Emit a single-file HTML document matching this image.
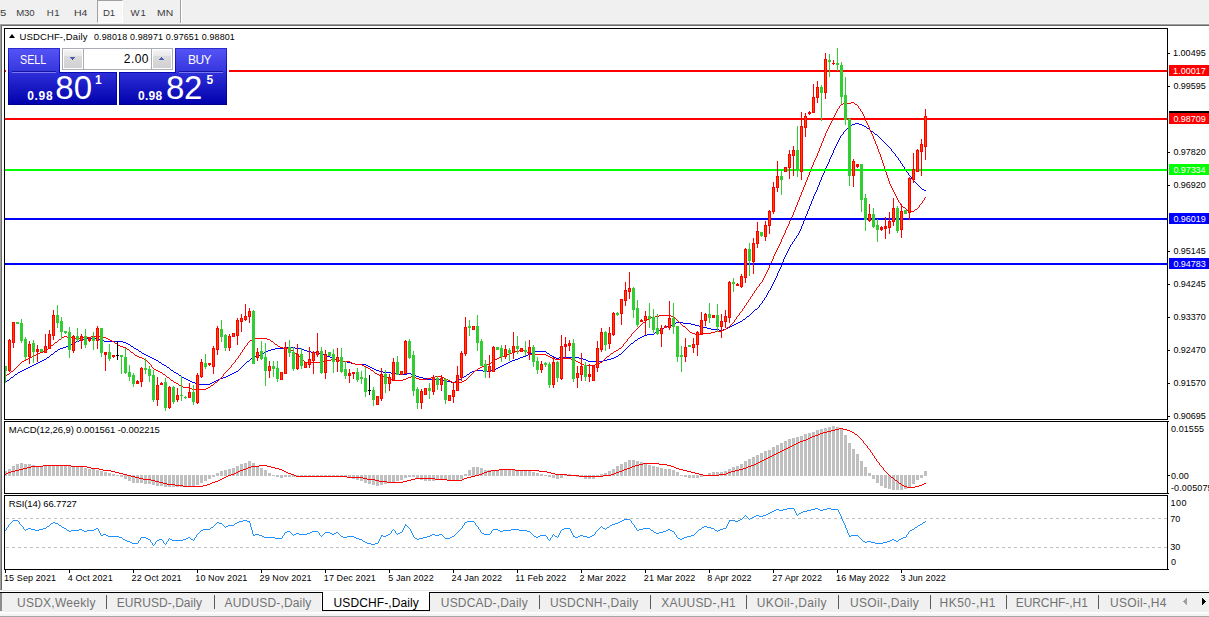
<!DOCTYPE html><html><head><meta charset="utf-8"><title>chart</title><style>
html,body{margin:0;padding:0}
body{width:1209px;height:617px;position:relative;overflow:hidden;background:#fff;font-family:"Liberation Sans",sans-serif;}
.a{position:absolute;white-space:nowrap;line-height:1}
.t{position:absolute;white-space:nowrap;transform-origin:0 0}
</style></head><body>
<div class="a" style="left:0px;top:0px;width:1209px;height:23px;background:#f0f0f0;"></div>
<div class="a" style="left:0px;top:23px;width:1209px;height:1px;background:#f4f4f4;"></div>
<div class="a" style="left:0px;top:24px;width:1209px;height:1px;background:#a0a0a0;"></div>
<div class="a" style="left:0px;top:25px;width:1209px;height:1px;background:#696969;"></div>
<div class="a" style="left:0px;top:24px;width:1px;height:566px;background:#a0a0a0;"></div>
<div class="a" style="left:1px;top:25px;width:1px;height:565px;background:#696969;"></div>
<div class="a" style="left:97px;top:0;width:26px;height:23px;background:#f8f8f8;border-left:1px solid #a0a0a0;border-top:1px solid #a0a0a0;border-right:1px solid #fff;border-bottom:1px solid #fff;box-sizing:border-box"></div>
<div class="a" style="left:180px;top:0px;width:1px;height:23px;background:#a0a0a0;"></div>
<div class="a" style="left:181px;top:0px;width:1px;height:23px;background:#fff;"></div>
<div class="t" style="left:0.15px;top:6.98px;font-size:9.6px;line-height:12px;color:#3c3c3c;transform:scaleX(1.1842105263157896);">5</div>
<div class="t" style="left:16.13px;top:6.98px;font-size:9.6px;line-height:12px;color:#3c3c3c;letter-spacing:-0.160px;">M30</div>
<div class="t" style="left:46.83px;top:6.98px;font-size:9.6px;line-height:12px;color:#3c3c3c;letter-spacing:0.508px;">H1</div>
<div class="t" style="left:73.56px;top:6.98px;font-size:9.6px;line-height:12px;color:#3c3c3c;transform:scaleX(1.0997854077253217);">H4</div>
<div class="t" style="left:103.03px;top:6.98px;font-size:9.6px;line-height:12px;color:#3c3c3c;letter-spacing:-0.092px;">D1</div>
<div class="t" style="left:130.55px;top:6.98px;font-size:9.6px;line-height:12px;color:#3c3c3c;letter-spacing:0.828px;">W1</div>
<div class="t" style="left:156.97px;top:6.98px;font-size:9.6px;line-height:12px;color:#3c3c3c;transform:scaleX(1.08273596176822);">MN</div>
<svg width="1209" height="617" viewBox="0 0 1209 617" shape-rendering="crispEdges" style="position:absolute;left:0;top:0">
<path d="M26 368h2v1h-2zM372 368h2v1h-2zM496 368h2v1h-2zM60 348h3v1h-3zM134 348h2v1h-2zM275 348h12v1h-12zM295 348h7v1h-7zM22 370h2v1h-2zM171 370h2v1h-2zM376 370h3v1h-3zM475 370h8v1h-8zM491 370h3v1h-3zM176 373h2v1h-2zM232 373h2v1h-2zM391 373h8v1h-8zM407 373h4v1h-4zM152 358h2v1h-2zM251 358h2v1h-2zM332 358h2v1h-2zM518 358h2v1h-2zM556 358h3v1h-3zM579 358h4v1h-4zM611 358h3v1h-3zM72 343h2v1h-2zM126 343h2v1h-2zM631 343h2v1h-2zM674 323h2v1h-2zM683 323h8v1h-8zM736 323h2v1h-2zM83 339h4v1h-4zM99 339h3v1h-3zM264 352h2v1h-2zM311 352h8v1h-8zM532 352h3v1h-3zM644 335h3v1h-3zM55 351h2v1h-2zM139 351h2v1h-2zM266 351h2v1h-2zM307 351h4v1h-4zM535 351h11v1h-11zM655 332h2v1h-2zM51 354h2v1h-2zM144 354h2v1h-2zM260 354h2v1h-2zM322 354h2v1h-2zM528 354h2v1h-2zM619 354h2v1h-2zM184 378h2v1h-2zM220 378h3v1h-3zM423 378h4v1h-4zM192 382h3v1h-3zM212 382h2v1h-2zM451 382h4v1h-4zM18 372h2v1h-2zM174 372h2v1h-2zM234 372h2v1h-2zM383 372h8v1h-8zM470 372h2v1h-2zM658 330h2v1h-2zM719 330h4v1h-4zM667 326h3v1h-3zM699 326h4v1h-4zM730 326h2v1h-2zM20 371h2v1h-2zM236 371h2v1h-2zM379 371h4v1h-4zM472 371h3v1h-3zM483 371h8v1h-8zM47 357h2v1h-2zM150 357h2v1h-2zM253 357h2v1h-2zM330 357h2v1h-2zM520 357h3v1h-3zM554 357h2v1h-2zM559 357h20v1h-20zM614 357h2v1h-2zM186 379h2v1h-2zM218 379h2v1h-2zM427 379h15v1h-15zM459 379h2v1h-2zM647 334h7v1h-7zM179 375h2v1h-2zM228 375h2v1h-2zM414 375h2v1h-2zM148 356h2v1h-2zM255 356h3v1h-3zM327 356h3v1h-3zM523 356h3v1h-3zM552 356h2v1h-2zM616 356h2v1h-2zM195 383h4v1h-4zM210 383h2v1h-2zM672 324h2v1h-2zM691 324h4v1h-4zM734 324h2v1h-2zM664 327h3v1h-3zM703 327h4v1h-4zM728 327h2v1h-2zM747 316h2v1h-2zM34 364h2v1h-2zM162 364h2v1h-2zM355 364h11v1h-11zM504 364h2v1h-2zM15 374h2v1h-2zM230 374h2v1h-2zM399 374h8v1h-8zM411 374h3v1h-3zM467 374h2v1h-2zM76 341h3v1h-3zM104 341h19v1h-19zM38 362h2v1h-2zM159 362h2v1h-2zM347 362h4v1h-4zM508 362h2v1h-2zM142 353h2v1h-2zM262 353h2v1h-2zM319 353h3v1h-3zM530 353h2v1h-2zM547 353h2v1h-2zM855 123h4v1h-4zM11 377h2v1h-2zM182 377h2v1h-2zM223 377h3v1h-3zM419 377h4v1h-4zM462 377h2v1h-2zM40 361h2v1h-2zM247 361h2v1h-2zM343 361h4v1h-4zM510 361h2v1h-2zM588 361h15v1h-15zM867 128h2v1h-2zM7 380h2v1h-2zM188 380h2v1h-2zM216 380h2v1h-2zM442 380h2v1h-2zM190 381h2v1h-2zM214 381h2v1h-2zM444 381h7v1h-7zM455 381h3v1h-3zM79 340h4v1h-4zM102 340h2v1h-2zM635 340h2v1h-2zM42 360h2v1h-2zM156 360h2v1h-2zM336 360h7v1h-7zM512 360h3v1h-3zM586 360h2v1h-2zM603 360h4v1h-4zM670 325h2v1h-2zM695 325h4v1h-4zM732 325h2v1h-2zM63 347h3v1h-3zM287 347h8v1h-8zM44 359h2v1h-2zM154 359h2v1h-2zM334 359h2v1h-2zM515 359h3v1h-3zM583 359h3v1h-3zM607 359h4v1h-4zM640 337h2v1h-2zM662 328h2v1h-2zM707 328h4v1h-4zM726 328h2v1h-2zM924 190h2v1h-2zM146 355h2v1h-2zM258 355h2v1h-2zM324 355h3v1h-3zM526 355h2v1h-2zM550 355h2v1h-2zM660 329h2v1h-2zM711 329h8v1h-8zM723 329h3v1h-3zM199 384h11v1h-11zM850 125h2v1h-2zM862 125h2v1h-2zM87 338h12v1h-12zM638 338h2v1h-2zM68 345h2v1h-2zM24 369h2v1h-2zM374 369h2v1h-2zM494 369h2v1h-2zM676 322h7v1h-7zM738 322h2v1h-2zM36 363h2v1h-2zM351 363h4v1h-4zM506 363h2v1h-2zM226 376h2v1h-2zM416 376h3v1h-3zM464 376h2v1h-2zM30 366h2v1h-2zM368 366h2v1h-2zM500 366h2v1h-2zM58 349h2v1h-2zM136 349h2v1h-2zM271 349h4v1h-4zM302 349h2v1h-2zM66 346h2v1h-2zM131 346h2v1h-2zM852 124h3v1h-3zM859 124h3v1h-3zM864 126h2v1h-2zM74 342h2v1h-2zM123 342h3v1h-3zM70 344h2v1h-2zM128 344h2v1h-2zM268 350h3v1h-3zM304 350h3v1h-3zM642 336h2v1h-2zM28 367h2v1h-2zM167 367h2v1h-2zM370 367h2v1h-2zM498 367h2v1h-2zM32 365h2v1h-2zM164 365h2v1h-2zM366 365h2v1h-2zM502 365h2v1h-2zM743 319h2v1h-2zM871 131h2v1h-2zM740 321h2v1h-2zM755 309h2v1h-2zM922 189h2v1h-2zM875 134h2v1h-2zM169 368h1v1h-1zM240 368h1v1h-1zM626 348h1v1h-1zM238 370h1v1h-1zM17 373h1v1h-1zM469 373h1v1h-1zM46 358h1v1h-1zM637 339h1v1h-1zM807 211h1v3h-1zM816 190h1v2h-1zM54 352h1v1h-1zM141 352h1v1h-1zM546 352h1v1h-1zM622 352h1v1h-1zM771 286h1v2h-1zM623 351h1v1h-1zM549 354h1v1h-1zM10 378h1v1h-1zM461 378h1v1h-1zM5 382h1v1h-1zM832 153h1v2h-1zM894 153h1v1h-1zM831 155h1v2h-1zM896 156h1v1h-1zM173 371h1v1h-1zM9 379h1v1h-1zM14 375h1v1h-1zM466 375h1v1h-1zM49 356h1v1h-1zM799 231h1v2h-1zM822 175h1v2h-1zM910 176h1v1h-1zM758 307h1v1h-1zM244 364h1v1h-1zM819 182h1v3h-1zM916 183h1v1h-1zM845 130h1v1h-1zM870 130h1v1h-1zM178 374h1v1h-1zM634 341h1v1h-1zM246 362h1v1h-1zM53 353h1v1h-1zM621 353h1v1h-1zM751 313h1v1h-1zM158 361h1v1h-1zM847 128h1v1h-1zM458 380h1v1h-1zM6 381h1v1h-1zM802 224h1v2h-1zM811 201h1v3h-1zM249 360h1v1h-1zM827 164h1v2h-1zM902 164h1v2h-1zM778 271h1v2h-1zM839 138h1v2h-1zM880 138h1v1h-1zM133 347h1v1h-1zM627 347h1v1h-1zM250 359h1v1h-1zM790 245h1v2h-1zM810 204h1v2h-1zM895 154h1v2h-1zM848 127h1v1h-1zM866 127h1v1h-1zM50 355h1v1h-1zM618 355h1v1h-1zM846 129h1v1h-1zM869 129h1v1h-1zM826 166h1v2h-1zM904 167h1v2h-1zM829 159h1v3h-1zM899 160h1v1h-1zM838 140h1v2h-1zM883 141h1v1h-1zM881 139h1v1h-1zM770 288h1v2h-1zM809 206h1v3h-1zM818 185h1v2h-1zM919 186h1v1h-1zM782 262h1v2h-1zM130 345h1v1h-1zM629 345h1v1h-1zM834 148h1v2h-1zM890 148h1v1h-1zM835 146h1v2h-1zM888 146h1v1h-1zM793 241h1v1h-1zM766 295h1v2h-1zM170 369h1v1h-1zM239 369h1v1h-1zM821 177h1v3h-1zM911 177h1v2h-1zM161 363h1v1h-1zM245 363h1v1h-1zM820 180h1v2h-1zM913 180h1v1h-1zM777 273h1v3h-1zM789 247h1v2h-1zM13 376h1v1h-1zM181 376h1v1h-1zM903 166h1v1h-1zM166 366h1v1h-1zM242 366h1v1h-1zM836 144h1v2h-1zM887 145h1v1h-1zM625 349h1v1h-1zM882 140h1v1h-1zM817 187h1v3h-1zM920 187h1v1h-1zM628 346h1v1h-1zM654 333h1v1h-1zM918 185h1v1h-1zM776 276h1v2h-1zM849 126h1v1h-1zM785 255h1v2h-1zM753 311h1v1h-1zM898 158h1v2h-1zM742 320h1v1h-1zM633 342h1v1h-1zM801 226h1v3h-1zM630 344h1v1h-1zM781 264h1v3h-1zM757 308h1v1h-1zM57 350h1v1h-1zM138 350h1v1h-1zM624 350h1v1h-1zM921 188h1v1h-1zM241 367h1v1h-1zM772 284h1v2h-1zM764 298h1v2h-1zM833 150h1v3h-1zM891 149h1v2h-1zM800 229h1v2h-1zM243 365h1v1h-1zM768 291h1v2h-1zM825 168h1v3h-1zM905 169h1v1h-1zM837 142h1v2h-1zM885 143h1v1h-1zM805 216h1v3h-1zM796 236h1v2h-1zM808 209h1v2h-1zM830 157h1v2h-1zM788 249h1v2h-1zM897 157h1v1h-1zM824 171h1v2h-1zM907 172h1v1h-1zM844 131h1v1h-1zM792 242h1v2h-1zM900 161h1v2h-1zM784 257h1v2h-1zM841 135h1v1h-1zM877 135h1v1h-1zM828 162h1v2h-1zM884 142h1v1h-1zM783 259h1v3h-1zM760 304h1v1h-1zM901 163h1v1h-1zM775 278h1v2h-1zM767 293h1v2h-1zM906 170h1v2h-1zM780 267h1v2h-1zM795 238h1v1h-1zM763 300h1v1h-1zM823 173h1v2h-1zM908 173h1v2h-1zM915 182h1v1h-1zM815 192h1v2h-1zM914 181h1v1h-1zM804 219h1v2h-1zM787 251h1v2h-1zM886 144h1v1h-1zM889 147h1v1h-1zM803 221h1v3h-1zM774 280h1v2h-1zM779 269h1v2h-1zM791 244h1v1h-1zM759 305h1v2h-1zM762 301h1v2h-1zM798 233h1v2h-1zM746 317h1v1h-1zM892 151h1v1h-1zM750 314h1v1h-1zM806 214h1v2h-1zM843 132h1v2h-1zM874 133h1v1h-1zM786 253h1v2h-1zM842 134h1v1h-1zM814 194h1v2h-1zM794 239h1v2h-1zM873 132h1v1h-1zM765 297h1v1h-1zM917 184h1v1h-1zM912 179h1v1h-1zM769 290h1v1h-1zM909 175h1v1h-1zM813 196h1v3h-1zM754 310h1v1h-1zM773 282h1v2h-1zM893 152h1v1h-1zM761 303h1v1h-1zM797 235h1v1h-1zM657 331h1v1h-1zM745 318h1v1h-1zM749 315h1v1h-1zM812 199h1v2h-1zM840 136h1v2h-1zM878 136h1v1h-1zM879 137h1v1h-1zM752 312h1v1h-1z" fill="#0000ff"/>
<path d="M22 361h2v1h-2zM323 361h4v1h-4zM343 361h7v1h-7zM576 361h2v1h-2zM355 364h7v1h-7zM487 364h3v1h-3zM582 364h2v1h-2zM595 364h3v1h-3zM283 348h7v1h-7zM619 348h2v1h-2zM375 373h2v1h-2zM275 344h2v1h-2zM156 370h2v1h-2zM371 370h2v1h-2zM475 370h2v1h-2zM843 103h8v1h-8zM383 376h3v1h-3zM411 376h3v1h-3zM435 376h7v1h-7zM123 347h3v1h-3zM280 347h3v1h-3zM62 337h2v1h-2zM67 337h8v1h-8zM83 337h8v1h-8zM103 337h3v1h-3zM26 359h2v1h-2zM144 359h2v1h-2zM331 359h8v1h-8zM495 359h2v1h-2zM555 359h8v1h-8zM571 359h3v1h-3zM362 365h2v1h-2zM484 365h3v1h-3zM584 365h11v1h-11zM167 377h2v1h-2zM386 377h2v1h-2zM408 377h3v1h-3zM414 377h2v1h-2zM431 377h4v1h-4zM442 377h2v1h-2zM366 367h2v1h-2zM480 367h2v1h-2zM36 354h2v1h-2zM507 354h3v1h-3zM529 354h17v1h-17zM291 350h2v1h-2zM519 350h7v1h-7zM616 350h2v1h-2zM40 352h3v1h-3zM131 352h2v1h-2zM512 352h3v1h-3zM28 358h2v1h-2zM142 358h2v1h-2zM497 358h2v1h-2zM552 358h3v1h-3zM563 358h8v1h-8zM75 338h8v1h-8zM106 338h2v1h-2zM255 338h12v1h-12zM43 351h3v1h-3zM515 351h4v1h-4zM614 351h2v1h-2zM11 371h2v1h-2zM158 371h2v1h-2zM305 362h18v1h-18zM350 362h2v1h-2zM491 362h2v1h-2zM578 362h2v1h-2zM600 362h2v1h-2zM388 378h2v1h-2zM406 378h2v1h-2zM416 378h3v1h-3zM427 378h4v1h-4zM444 378h2v1h-2zM651 317h4v1h-4zM909 211h5v1h-5zM64 336h3v1h-3zM91 336h12v1h-12zM34 355h2v1h-2zM135 355h2v1h-2zM504 355h3v1h-3zM546 355h2v1h-2zM903 207h2v1h-2zM649 318h2v1h-2zM390 379h2v1h-2zM403 379h3v1h-3zM419 379h8v1h-8zM446 379h2v1h-2zM692 333h3v1h-3zM703 333h8v1h-8zM171 380h2v1h-2zM392 380h11v1h-11zM448 380h2v1h-2zM464 380h2v1h-2zM174 382h2v1h-2zM215 382h2v1h-2zM452 382h10v1h-10zM915 209h2v1h-2zM659 315h12v1h-12zM695 334h8v1h-8zM655 316h4v1h-4zM671 316h3v1h-3zM647 319h2v1h-2zM183 387h7v1h-7zM208 387h2v1h-2zM715 331h7v1h-7zM32 356h2v1h-2zM137 356h2v1h-2zM502 356h2v1h-2zM548 356h2v1h-2zM607 356h2v1h-2zM727 327h2v1h-2zM59 339h2v1h-2zM108 339h2v1h-2zM252 339h3v1h-3zM267 339h3v1h-3zM368 368h2v1h-2zM478 368h2v1h-2zM450 381h2v1h-2zM462 381h2v1h-2zM110 340h2v1h-2zM250 340h2v1h-2zM30 357h2v1h-2zM139 357h3v1h-3zM499 357h3v1h-3zM550 357h2v1h-2zM38 353h2v1h-2zM295 353h2v1h-2zM510 353h2v1h-2zM611 353h2v1h-2zM120 346h3v1h-3zM278 346h2v1h-2zM115 343h2v1h-2zM112 341h2v1h-2zM271 341h2v1h-2zM24 360h2v1h-2zM327 360h4v1h-4zM339 360h4v1h-4zM574 360h2v1h-2zM364 366h2v1h-2zM482 366h2v1h-2zM127 349h2v1h-2zM192 389h14v1h-14zM51 345h2v1h-2zM118 345h2v1h-2zM722 330h2v1h-2zM179 385h2v1h-2zM211 385h2v1h-2zM841 104h2v1h-2zM855 104h2v1h-2zM851 102h3v1h-3zM352 363h3v1h-3zM580 363h2v1h-2zM598 363h2v1h-2zM7 374h2v1h-2zM163 374h2v1h-2zM377 374h2v1h-2zM690 332h2v1h-2zM711 332h4v1h-4zM154 369h2v1h-2zM907 210h2v1h-2zM55 342h2v1h-2zM379 375h4v1h-4zM683 326h2v1h-2zM724 329h2v1h-2zM181 386h2v1h-2zM160 372h2v1h-2zM190 388h2v1h-2zM206 388h2v1h-2zM176 383h2v1h-2zM643 322h2v1h-2zM780 242h1v2h-1zM147 361h1v1h-1zM235 360h1v2h-1zM304 361h1v1h-1zM493 361h1v1h-1zM602 361h1v1h-1zM19 364h1v1h-1zM150 364h1v1h-1zM232 364h1v1h-1zM48 348h1v1h-1zM126 348h1v1h-1zM244 347h1v2h-1zM9 373h1v1h-1zM162 373h1v1h-1zM224 373h1v1h-1zM472 373h1v1h-1zM53 344h1v1h-1zM117 344h1v1h-1zM247 343h1v2h-1zM623 344h1v2h-1zM13 370h1v1h-1zM227 370h1v1h-1zM792 215h1v2h-1zM807 177h1v3h-1zM887 175h1v3h-1zM829 125h1v2h-1zM868 125h1v2h-1zM854 103h1v1h-1zM5 376h1v1h-1zM166 376h1v1h-1zM222 376h1v1h-1zM469 376h1v1h-1zM49 347h1v1h-1zM621 347h1v1h-1zM629 337h1v1h-1zM236 359h1v1h-1zM302 359h1v1h-1zM604 359h1v1h-1zM18 365h1v1h-1zM151 365h1v2h-1zM231 365h1v2h-1zM221 377h1v1h-1zM468 377h1v1h-1zM835 113h1v2h-1zM863 114h1v2h-1zM16 367h1v1h-1zM152 367h1v1h-1zM230 367h1v1h-1zM134 354h1v1h-1zM240 353h1v2h-1zM297 354h1v1h-1zM610 354h1v1h-1zM46 350h1v1h-1zM129 350h1v1h-1zM242 350h1v2h-1zM812 165h1v2h-1zM884 166h1v3h-1zM241 352h1v1h-1zM294 352h1v1h-1zM527 352h1v1h-1zM613 352h1v1h-1zM767 270h1v2h-1zM237 358h1v1h-1zM301 358h1v1h-1zM605 358h1v1h-1zM779 244h1v2h-1zM61 338h1v1h-1zM628 338h1v1h-1zM756 288h1v2h-1zM130 351h1v1h-1zM293 351h1v1h-1zM526 351h1v1h-1zM226 371h1v1h-1zM373 371h1v1h-1zM474 371h1v1h-1zM828 127h1v2h-1zM869 127h1v3h-1zM21 362h1v1h-1zM148 362h1v1h-1zM234 362h1v1h-1zM888 178h1v3h-1zM169 378h1v1h-1zM220 378h1v1h-1zM467 378h1v1h-1zM674 317h1v1h-1zM736 317h1v2h-1zM824 136h1v2h-1zM873 136h1v3h-1zM794 210h1v2h-1zM630 336h1v1h-1zM239 355h1v1h-1zM298 355h1v1h-1zM609 355h1v1h-1zM795 207h1v3h-1zM918 207h1v1h-1zM815 158h1v2h-1zM881 157h1v3h-1zM804 185h1v2h-1zM890 184h1v2h-1zM797 202h1v3h-1zM900 203h1v2h-1zM921 203h1v1h-1zM827 129h1v2h-1zM870 130h1v2h-1zM675 318h1v1h-1zM170 379h1v1h-1zM219 379h1v1h-1zM466 379h1v1h-1zM632 333h1v1h-1zM820 146h1v2h-1zM877 146h1v3h-1zM763 278h1v2h-1zM775 252h1v2h-1zM811 167h1v3h-1zM218 380h1v1h-1zM787 226h1v2h-1zM906 209h1v1h-1zM738 315h1v1h-1zM631 334h1v2h-1zM803 187h1v3h-1zM892 188h1v2h-1zM737 316h1v1h-1zM676 319h1v1h-1zM735 319h1v1h-1zM640 325h1v1h-1zM682 325h1v1h-1zM730 325h1v1h-1zM747 302h1v1h-1zM634 331h1v1h-1zM689 331h1v1h-1zM238 356h1v2h-1zM299 356h1v1h-1zM638 327h1v1h-1zM685 327h1v1h-1zM750 297h1v2h-1zM627 339h1v2h-1zM836 111h1v2h-1zM862 112h1v2h-1zM15 368h1v1h-1zM153 368h1v1h-1zM229 368h1v1h-1zM759 284h1v2h-1zM762 280h1v2h-1zM173 381h1v1h-1zM217 381h1v1h-1zM774 254h1v2h-1zM786 228h1v2h-1zM58 340h1v1h-1zM270 340h1v1h-1zM300 357h1v1h-1zM606 357h1v1h-1zM799 197h1v3h-1zM897 198h1v2h-1zM924 198h1v2h-1zM133 353h1v1h-1zM528 353h1v1h-1zM50 346h1v1h-1zM245 346h1v1h-1zM622 346h1v1h-1zM54 343h1v1h-1zM274 343h1v1h-1zM624 343h1v1h-1zM754 291h1v2h-1zM885 169h1v3h-1zM57 341h1v1h-1zM249 341h1v1h-1zM626 341h1v1h-1zM791 217h1v2h-1zM146 360h1v1h-1zM303 360h1v1h-1zM494 360h1v1h-1zM603 360h1v1h-1zM17 366h1v1h-1zM798 200h1v2h-1zM898 200h1v2h-1zM922 201h1v2h-1zM47 349h1v1h-1zM243 349h1v1h-1zM290 349h1v1h-1zM618 349h1v1h-1zM246 345h1v1h-1zM277 345h1v1h-1zM635 330h1v1h-1zM688 330h1v1h-1zM821 143h1v3h-1zM876 144h1v2h-1zM832 119h1v2h-1zM865 118h1v3h-1zM823 138h1v3h-1zM874 139h1v2h-1zM905 208h1v1h-1zM917 208h1v1h-1zM891 186h1v2h-1zM819 148h1v3h-1zM878 149h1v3h-1zM816 156h1v2h-1zM880 154h1v3h-1zM20 363h1v1h-1zM149 363h1v1h-1zM233 363h1v1h-1zM490 363h1v1h-1zM802 190h1v2h-1zM893 190h1v2h-1zM223 374h1v2h-1zM471 374h1v1h-1zM633 332h1v1h-1zM645 321h1v1h-1zM678 321h1v1h-1zM734 320h1v2h-1zM641 324h1v1h-1zM681 324h1v1h-1zM731 324h1v1h-1zM14 369h1v1h-1zM228 369h1v1h-1zM370 369h1v1h-1zM477 369h1v1h-1zM766 272h1v2h-1zM746 303h1v2h-1zM778 246h1v2h-1zM914 210h1v1h-1zM114 342h1v1h-1zM248 342h1v1h-1zM273 342h1v1h-1zM625 342h1v1h-1zM646 320h1v1h-1zM677 320h1v1h-1zM883 163h1v3h-1zM6 375h1v1h-1zM165 375h1v1h-1zM470 375h1v1h-1zM753 293h1v1h-1zM814 160h1v2h-1zM882 160h1v3h-1zM639 326h1v1h-1zM729 326h1v1h-1zM769 265h1v3h-1zM838 108h1v1h-1zM859 108h1v1h-1zM781 239h1v3h-1zM793 212h1v3h-1zM920 204h1v1h-1zM773 256h1v3h-1zM817 153h1v3h-1zM822 141h1v2h-1zM875 141h1v3h-1zM796 205h1v2h-1zM901 205h1v1h-1zM919 205h1v2h-1zM834 115h1v2h-1zM801 192h1v3h-1zM894 192h1v2h-1zM805 182h1v3h-1zM889 181h1v3h-1zM636 329h1v1h-1zM687 329h1v1h-1zM806 180h1v2h-1zM790 219h1v2h-1zM810 170h1v2h-1zM210 386h1v1h-1zM10 372h1v1h-1zM225 372h1v1h-1zM374 372h1v1h-1zM473 372h1v1h-1zM765 274h1v2h-1zM896 196h1v2h-1zM925 197h1v1h-1zM809 172h1v3h-1zM886 172h1v3h-1zM899 202h1v1h-1zM879 152h1v2h-1zM818 151h1v2h-1zM749 299h1v1h-1zM785 230h1v3h-1zM761 282h1v1h-1zM772 259h1v2h-1zM784 233h1v2h-1zM833 117h1v2h-1zM864 116h1v2h-1zM800 195h1v2h-1zM777 248h1v2h-1zM740 312h1v1h-1zM895 194h1v2h-1zM789 221h1v3h-1zM830 123h1v2h-1zM867 123h1v2h-1zM813 162h1v3h-1zM214 383h1v1h-1zM837 109h1v2h-1zM860 109h1v2h-1zM679 322h1v1h-1zM733 322h1v1h-1zM743 308h1v1h-1zM831 121h1v2h-1zM866 121h1v2h-1zM752 294h1v2h-1zM825 133h1v3h-1zM872 134h1v2h-1zM783 235h1v2h-1zM808 175h1v2h-1zM788 224h1v2h-1zM923 200h1v1h-1zM902 206h1v1h-1zM771 261h1v2h-1zM755 290h1v1h-1zM840 105h1v1h-1zM857 105h1v1h-1zM739 313h1v2h-1zM178 384h1v1h-1zM213 384h1v1h-1zM861 111h1v1h-1zM758 286h1v1h-1zM742 309h1v2h-1zM770 263h1v2h-1zM782 237h1v2h-1zM839 106h1v2h-1zM858 106h1v2h-1zM826 131h1v2h-1zM871 132h1v2h-1zM745 305h1v1h-1zM637 328h1v1h-1zM686 328h1v1h-1zM726 328h1v1h-1zM757 287h1v1h-1zM764 276h1v2h-1zM776 250h1v2h-1zM741 311h1v1h-1zM748 300h1v2h-1zM642 323h1v1h-1zM680 323h1v1h-1zM732 323h1v1h-1zM744 306h1v2h-1zM768 268h1v2h-1zM760 283h1v1h-1zM751 296h1v1h-1z" fill="#ff0000"/>
<rect x="5" y="70" width="1162" height="2" fill="#ff0000"/>
<rect x="5" y="118" width="1162" height="2" fill="#ff0000"/>
<rect x="5" y="169" width="1162" height="2" fill="#00ff00"/>
<rect x="5" y="218" width="1162" height="2" fill="#0000ff"/>
<rect x="5" y="263" width="1162" height="2" fill="#0000ff"/>
<g><rect x="5" y="366" width="1" height="17" fill="#32cd32"/><rect x="5" y="366" width="2" height="5" fill="#32cd32"/><rect x="9" y="339" width="1" height="33" fill="#ff0000"/><rect x="8" y="340" width="3" height="31" fill="#ff0000"/><rect x="9" y="341" width="1" height="29" fill="#ff4500"/><rect x="13" y="322" width="1" height="26" fill="#ff0000"/><rect x="12" y="322" width="3" height="21" fill="#ff0000"/><rect x="13" y="323" width="1" height="19" fill="#ff4500"/><rect x="17" y="322" width="1" height="2" fill="#32cd32"/><rect x="16" y="322" width="3" height="2" fill="#32cd32"/><rect x="21" y="319" width="1" height="24" fill="#32cd32"/><rect x="20" y="323" width="3" height="18" fill="#32cd32"/><rect x="25" y="337" width="1" height="23" fill="#32cd32"/><rect x="24" y="339" width="3" height="18" fill="#32cd32"/><rect x="29" y="341" width="1" height="23" fill="#ff0000"/><rect x="28" y="344" width="3" height="13" fill="#ff0000"/><rect x="29" y="345" width="1" height="11" fill="#ff4500"/><rect x="33" y="340" width="1" height="23" fill="#32cd32"/><rect x="32" y="343" width="3" height="9" fill="#32cd32"/><rect x="37" y="345" width="1" height="17" fill="#ff0000"/><rect x="36" y="349" width="3" height="3" fill="#ff0000"/><rect x="41" y="349" width="1" height="3" fill="#32cd32"/><rect x="40" y="349" width="3" height="3" fill="#32cd32"/><rect x="45" y="334" width="1" height="19" fill="#ff0000"/><rect x="44" y="346" width="3" height="7" fill="#ff0000"/><rect x="45" y="347" width="1" height="5" fill="#ff4500"/><rect x="49" y="330" width="1" height="19" fill="#ff0000"/><rect x="48" y="334" width="3" height="15" fill="#ff0000"/><rect x="49" y="335" width="1" height="13" fill="#ff4500"/><rect x="53" y="310" width="1" height="30" fill="#ff0000"/><rect x="52" y="315" width="3" height="21" fill="#ff0000"/><rect x="53" y="316" width="1" height="19" fill="#ff4500"/><rect x="57" y="305" width="1" height="23" fill="#32cd32"/><rect x="56" y="315" width="3" height="8" fill="#32cd32"/><rect x="61" y="317" width="1" height="22" fill="#32cd32"/><rect x="60" y="321" width="3" height="11" fill="#32cd32"/><rect x="65" y="331" width="1" height="3" fill="#32cd32"/><rect x="64" y="331" width="3" height="2" fill="#32cd32"/><rect x="69" y="327" width="1" height="31" fill="#32cd32"/><rect x="68" y="332" width="3" height="18" fill="#32cd32"/><rect x="73" y="335" width="1" height="18" fill="#ff0000"/><rect x="72" y="336" width="3" height="15" fill="#ff0000"/><rect x="73" y="337" width="1" height="13" fill="#ff4500"/><rect x="77" y="328" width="1" height="14" fill="#32cd32"/><rect x="76" y="336" width="3" height="4" fill="#32cd32"/><rect x="81" y="334" width="1" height="15" fill="#ff0000"/><rect x="80" y="336" width="3" height="5" fill="#ff0000"/><rect x="81" y="337" width="1" height="3" fill="#ff4500"/><rect x="85" y="329" width="1" height="19" fill="#32cd32"/><rect x="84" y="336" width="3" height="9" fill="#32cd32"/><rect x="89" y="338" width="1" height="4" fill="#ff0000"/><rect x="88" y="338" width="3" height="3" fill="#ff0000"/><rect x="93" y="332" width="1" height="18" fill="#32cd32"/><rect x="92" y="337" width="3" height="4" fill="#32cd32"/><rect x="97" y="326" width="1" height="23" fill="#ff0000"/><rect x="96" y="328" width="3" height="13" fill="#ff0000"/><rect x="97" y="329" width="1" height="11" fill="#ff4500"/><rect x="101" y="328" width="1" height="29" fill="#32cd32"/><rect x="100" y="328" width="3" height="25" fill="#32cd32"/><rect x="105" y="352" width="1" height="19" fill="#ff0000"/><rect x="104" y="352" width="3" height="3" fill="#ff0000"/><rect x="109" y="344" width="1" height="17" fill="#32cd32"/><rect x="108" y="352" width="3" height="7" fill="#32cd32"/><rect x="113" y="355" width="1" height="3" fill="#ff0000"/><rect x="112" y="355" width="3" height="2" fill="#ff0000"/><rect x="117" y="341" width="1" height="19" fill="#000"/><rect x="116" y="355" width="3" height="1" fill="#000"/><rect x="121" y="355" width="1" height="19" fill="#32cd32"/><rect x="120" y="355" width="3" height="2" fill="#32cd32"/><rect x="125" y="348" width="1" height="26" fill="#32cd32"/><rect x="124" y="357" width="3" height="16" fill="#32cd32"/><rect x="129" y="365" width="1" height="16" fill="#32cd32"/><rect x="128" y="372" width="3" height="5" fill="#32cd32"/><rect x="133" y="373" width="1" height="14" fill="#32cd32"/><rect x="132" y="375" width="3" height="9" fill="#32cd32"/><rect x="137" y="380" width="1" height="4" fill="#ff0000"/><rect x="136" y="381" width="3" height="3" fill="#ff0000"/><rect x="141" y="367" width="1" height="20" fill="#ff0000"/><rect x="140" y="368" width="3" height="14" fill="#ff0000"/><rect x="141" y="369" width="1" height="12" fill="#ff4500"/><rect x="145" y="358" width="1" height="16" fill="#32cd32"/><rect x="144" y="368" width="3" height="2" fill="#32cd32"/><rect x="149" y="366" width="1" height="16" fill="#32cd32"/><rect x="148" y="369" width="3" height="7" fill="#32cd32"/><rect x="153" y="370" width="1" height="32" fill="#32cd32"/><rect x="152" y="375" width="3" height="25" fill="#32cd32"/><rect x="157" y="377" width="1" height="29" fill="#ff0000"/><rect x="156" y="385" width="3" height="15" fill="#ff0000"/><rect x="157" y="386" width="1" height="13" fill="#ff4500"/><rect x="161" y="382" width="1" height="3" fill="#ff0000"/><rect x="160" y="383" width="3" height="2" fill="#ff0000"/><rect x="165" y="378" width="1" height="33" fill="#32cd32"/><rect x="164" y="382" width="3" height="26" fill="#32cd32"/><rect x="169" y="386" width="1" height="23" fill="#ff0000"/><rect x="168" y="387" width="3" height="21" fill="#ff0000"/><rect x="169" y="388" width="1" height="19" fill="#ff4500"/><rect x="173" y="386" width="1" height="18" fill="#32cd32"/><rect x="172" y="387" width="3" height="15" fill="#32cd32"/><rect x="177" y="388" width="1" height="14" fill="#ff0000"/><rect x="176" y="395" width="3" height="5" fill="#ff0000"/><rect x="177" y="396" width="1" height="3" fill="#ff4500"/><rect x="181" y="376" width="1" height="25" fill="#32cd32"/><rect x="180" y="395" width="3" height="1" fill="#32cd32"/><rect x="185" y="396" width="1" height="3" fill="#32cd32"/><rect x="184" y="397" width="3" height="1" fill="#32cd32"/><rect x="189" y="383" width="1" height="15" fill="#ff0000"/><rect x="188" y="392" width="3" height="6" fill="#ff0000"/><rect x="189" y="393" width="1" height="4" fill="#ff4500"/><rect x="193" y="385" width="1" height="20" fill="#32cd32"/><rect x="192" y="392" width="3" height="10" fill="#32cd32"/><rect x="197" y="373" width="1" height="31" fill="#ff0000"/><rect x="196" y="375" width="3" height="28" fill="#ff0000"/><rect x="197" y="376" width="1" height="26" fill="#ff4500"/><rect x="201" y="359" width="1" height="19" fill="#ff0000"/><rect x="200" y="362" width="3" height="15" fill="#ff0000"/><rect x="201" y="363" width="1" height="13" fill="#ff4500"/><rect x="205" y="354" width="1" height="15" fill="#32cd32"/><rect x="204" y="363" width="3" height="4" fill="#32cd32"/><rect x="209" y="363" width="1" height="3" fill="#ff0000"/><rect x="208" y="363" width="3" height="2" fill="#ff0000"/><rect x="213" y="346" width="1" height="28" fill="#ff0000"/><rect x="212" y="348" width="3" height="19" fill="#ff0000"/><rect x="213" y="349" width="1" height="17" fill="#ff4500"/><rect x="217" y="326" width="1" height="29" fill="#ff0000"/><rect x="216" y="328" width="3" height="22" fill="#ff0000"/><rect x="217" y="329" width="1" height="20" fill="#ff4500"/><rect x="221" y="320" width="1" height="22" fill="#32cd32"/><rect x="220" y="329" width="3" height="8" fill="#32cd32"/><rect x="225" y="334" width="1" height="17" fill="#32cd32"/><rect x="224" y="335" width="3" height="13" fill="#32cd32"/><rect x="229" y="334" width="1" height="17" fill="#ff0000"/><rect x="228" y="336" width="3" height="12" fill="#ff0000"/><rect x="229" y="337" width="1" height="10" fill="#ff4500"/><rect x="233" y="333" width="1" height="4" fill="#ff0000"/><rect x="232" y="333" width="3" height="4" fill="#ff0000"/><rect x="233" y="334" width="1" height="2" fill="#ff4500"/><rect x="237" y="318" width="1" height="27" fill="#ff0000"/><rect x="236" y="320" width="3" height="16" fill="#ff0000"/><rect x="237" y="321" width="1" height="14" fill="#ff4500"/><rect x="241" y="314" width="1" height="18" fill="#ff0000"/><rect x="240" y="318" width="3" height="4" fill="#ff0000"/><rect x="241" y="319" width="1" height="2" fill="#ff4500"/><rect x="245" y="304" width="1" height="17" fill="#ff0000"/><rect x="244" y="316" width="3" height="4" fill="#ff0000"/><rect x="245" y="317" width="1" height="2" fill="#ff4500"/><rect x="249" y="308" width="1" height="15" fill="#ff0000"/><rect x="248" y="311" width="3" height="6" fill="#ff0000"/><rect x="249" y="312" width="1" height="4" fill="#ff4500"/><rect x="253" y="310" width="1" height="54" fill="#32cd32"/><rect x="252" y="311" width="3" height="53" fill="#32cd32"/><rect x="257" y="348" width="1" height="13" fill="#ff0000"/><rect x="256" y="352" width="3" height="6" fill="#ff0000"/><rect x="257" y="353" width="1" height="4" fill="#ff4500"/><rect x="261" y="341" width="1" height="19" fill="#32cd32"/><rect x="260" y="351" width="3" height="8" fill="#32cd32"/><rect x="265" y="343" width="1" height="43" fill="#32cd32"/><rect x="264" y="357" width="3" height="14" fill="#32cd32"/><rect x="269" y="361" width="1" height="17" fill="#ff0000"/><rect x="268" y="366" width="3" height="5" fill="#ff0000"/><rect x="269" y="367" width="1" height="3" fill="#ff4500"/><rect x="273" y="361" width="1" height="16" fill="#32cd32"/><rect x="272" y="366" width="3" height="3" fill="#32cd32"/><rect x="277" y="361" width="1" height="21" fill="#32cd32"/><rect x="276" y="368" width="3" height="11" fill="#32cd32"/><rect x="281" y="372" width="1" height="8" fill="#ff0000"/><rect x="280" y="372" width="3" height="8" fill="#ff0000"/><rect x="281" y="373" width="1" height="6" fill="#ff4500"/><rect x="285" y="342" width="1" height="32" fill="#ff0000"/><rect x="284" y="347" width="3" height="27" fill="#ff0000"/><rect x="285" y="348" width="1" height="25" fill="#ff4500"/><rect x="289" y="340" width="1" height="17" fill="#32cd32"/><rect x="288" y="347" width="3" height="6" fill="#32cd32"/><rect x="293" y="347" width="1" height="24" fill="#32cd32"/><rect x="292" y="352" width="3" height="17" fill="#32cd32"/><rect x="297" y="344" width="1" height="26" fill="#ff0000"/><rect x="296" y="354" width="3" height="15" fill="#ff0000"/><rect x="297" y="355" width="1" height="13" fill="#ff4500"/><rect x="301" y="348" width="1" height="21" fill="#32cd32"/><rect x="300" y="354" width="3" height="12" fill="#32cd32"/><rect x="305" y="362" width="1" height="6" fill="#ff0000"/><rect x="304" y="362" width="3" height="6" fill="#ff0000"/><rect x="305" y="363" width="1" height="4" fill="#ff4500"/><rect x="309" y="347" width="1" height="21" fill="#ff0000"/><rect x="308" y="359" width="3" height="6" fill="#ff0000"/><rect x="309" y="360" width="1" height="4" fill="#ff4500"/><rect x="313" y="351" width="1" height="23" fill="#ff0000"/><rect x="312" y="352" width="3" height="9" fill="#ff0000"/><rect x="313" y="353" width="1" height="7" fill="#ff4500"/><rect x="317" y="333" width="1" height="24" fill="#ff0000"/><rect x="316" y="351" width="3" height="4" fill="#ff0000"/><rect x="317" y="352" width="1" height="2" fill="#ff4500"/><rect x="321" y="347" width="1" height="27" fill="#32cd32"/><rect x="320" y="351" width="3" height="22" fill="#32cd32"/><rect x="325" y="350" width="1" height="29" fill="#ff0000"/><rect x="324" y="354" width="3" height="19" fill="#ff0000"/><rect x="325" y="355" width="1" height="17" fill="#ff4500"/><rect x="329" y="352" width="1" height="4" fill="#32cd32"/><rect x="328" y="352" width="3" height="4" fill="#32cd32"/><rect x="333" y="349" width="1" height="24" fill="#32cd32"/><rect x="332" y="354" width="3" height="8" fill="#32cd32"/><rect x="337" y="348" width="1" height="24" fill="#ff0000"/><rect x="336" y="357" width="3" height="5" fill="#ff0000"/><rect x="337" y="358" width="1" height="3" fill="#ff4500"/><rect x="341" y="348" width="1" height="25" fill="#32cd32"/><rect x="340" y="357" width="3" height="15" fill="#32cd32"/><rect x="345" y="361" width="1" height="18" fill="#32cd32"/><rect x="344" y="369" width="3" height="7" fill="#32cd32"/><rect x="349" y="369" width="1" height="14" fill="#ff0000"/><rect x="348" y="373" width="3" height="3" fill="#ff0000"/><rect x="353" y="372" width="1" height="7" fill="#ff0000"/><rect x="352" y="372" width="3" height="2" fill="#ff0000"/><rect x="357" y="368" width="1" height="14" fill="#32cd32"/><rect x="356" y="372" width="3" height="8" fill="#32cd32"/><rect x="361" y="371" width="1" height="13" fill="#32cd32"/><rect x="360" y="377" width="3" height="2" fill="#32cd32"/><rect x="365" y="367" width="1" height="30" fill="#32cd32"/><rect x="364" y="378" width="3" height="14" fill="#32cd32"/><rect x="369" y="375" width="1" height="20" fill="#000"/><rect x="368" y="390" width="3" height="1" fill="#000"/><rect x="373" y="387" width="1" height="19" fill="#32cd32"/><rect x="372" y="390" width="3" height="10" fill="#32cd32"/><rect x="377" y="396" width="1" height="9" fill="#ff0000"/><rect x="376" y="396" width="3" height="9" fill="#ff0000"/><rect x="377" y="397" width="1" height="7" fill="#ff4500"/><rect x="381" y="368" width="1" height="33" fill="#ff0000"/><rect x="380" y="374" width="3" height="25" fill="#ff0000"/><rect x="381" y="375" width="1" height="23" fill="#ff4500"/><rect x="385" y="370" width="1" height="23" fill="#32cd32"/><rect x="384" y="374" width="3" height="10" fill="#32cd32"/><rect x="389" y="374" width="1" height="17" fill="#ff0000"/><rect x="388" y="377" width="3" height="7" fill="#ff0000"/><rect x="389" y="378" width="1" height="5" fill="#ff4500"/><rect x="393" y="358" width="1" height="23" fill="#ff0000"/><rect x="392" y="362" width="3" height="18" fill="#ff0000"/><rect x="393" y="363" width="1" height="16" fill="#ff4500"/><rect x="397" y="356" width="1" height="19" fill="#32cd32"/><rect x="396" y="362" width="3" height="13" fill="#32cd32"/><rect x="401" y="371" width="1" height="4" fill="#ff0000"/><rect x="400" y="371" width="3" height="4" fill="#ff0000"/><rect x="401" y="372" width="1" height="2" fill="#ff4500"/><rect x="405" y="340" width="1" height="34" fill="#ff0000"/><rect x="404" y="341" width="3" height="33" fill="#ff0000"/><rect x="405" y="342" width="1" height="31" fill="#ff4500"/><rect x="409" y="339" width="1" height="20" fill="#32cd32"/><rect x="408" y="341" width="3" height="17" fill="#32cd32"/><rect x="413" y="351" width="1" height="45" fill="#32cd32"/><rect x="412" y="355" width="3" height="36" fill="#32cd32"/><rect x="417" y="387" width="1" height="22" fill="#32cd32"/><rect x="416" y="389" width="3" height="14" fill="#32cd32"/><rect x="421" y="389" width="1" height="20" fill="#ff0000"/><rect x="420" y="391" width="3" height="12" fill="#ff0000"/><rect x="421" y="392" width="1" height="10" fill="#ff4500"/><rect x="425" y="388" width="1" height="7" fill="#ff0000"/><rect x="424" y="388" width="3" height="7" fill="#ff0000"/><rect x="425" y="389" width="1" height="5" fill="#ff4500"/><rect x="429" y="383" width="1" height="16" fill="#32cd32"/><rect x="428" y="388" width="3" height="3" fill="#32cd32"/><rect x="433" y="375" width="1" height="20" fill="#ff0000"/><rect x="432" y="377" width="3" height="15" fill="#ff0000"/><rect x="433" y="378" width="1" height="13" fill="#ff4500"/><rect x="437" y="376" width="1" height="14" fill="#32cd32"/><rect x="436" y="378" width="3" height="7" fill="#32cd32"/><rect x="441" y="375" width="1" height="16" fill="#ff0000"/><rect x="440" y="378" width="3" height="7" fill="#ff0000"/><rect x="441" y="379" width="1" height="5" fill="#ff4500"/><rect x="445" y="378" width="1" height="26" fill="#32cd32"/><rect x="444" y="379" width="3" height="21" fill="#32cd32"/><rect x="449" y="395" width="1" height="6" fill="#ff0000"/><rect x="448" y="395" width="3" height="6" fill="#ff0000"/><rect x="449" y="396" width="1" height="4" fill="#ff4500"/><rect x="453" y="383" width="1" height="20" fill="#ff0000"/><rect x="452" y="390" width="3" height="7" fill="#ff0000"/><rect x="453" y="391" width="1" height="5" fill="#ff4500"/><rect x="457" y="366" width="1" height="25" fill="#ff0000"/><rect x="456" y="375" width="3" height="16" fill="#ff0000"/><rect x="457" y="376" width="1" height="14" fill="#ff4500"/><rect x="461" y="351" width="1" height="30" fill="#ff0000"/><rect x="460" y="353" width="3" height="25" fill="#ff0000"/><rect x="461" y="354" width="1" height="23" fill="#ff4500"/><rect x="465" y="317" width="1" height="39" fill="#ff0000"/><rect x="464" y="327" width="3" height="27" fill="#ff0000"/><rect x="465" y="328" width="1" height="25" fill="#ff4500"/><rect x="469" y="320" width="1" height="16" fill="#32cd32"/><rect x="468" y="326" width="3" height="2" fill="#32cd32"/><rect x="473" y="326" width="1" height="4" fill="#ff0000"/><rect x="472" y="326" width="3" height="4" fill="#ff0000"/><rect x="473" y="327" width="1" height="2" fill="#ff4500"/><rect x="477" y="315" width="1" height="36" fill="#32cd32"/><rect x="476" y="326" width="3" height="17" fill="#32cd32"/><rect x="481" y="339" width="1" height="27" fill="#32cd32"/><rect x="480" y="341" width="3" height="25" fill="#32cd32"/><rect x="485" y="360" width="1" height="18" fill="#32cd32"/><rect x="484" y="364" width="3" height="8" fill="#32cd32"/><rect x="489" y="355" width="1" height="23" fill="#ff0000"/><rect x="488" y="366" width="3" height="6" fill="#ff0000"/><rect x="489" y="367" width="1" height="4" fill="#ff4500"/><rect x="493" y="346" width="1" height="26" fill="#ff0000"/><rect x="492" y="347" width="3" height="25" fill="#ff0000"/><rect x="493" y="348" width="1" height="23" fill="#ff4500"/><rect x="497" y="347" width="1" height="3" fill="#32cd32"/><rect x="496" y="347" width="3" height="3" fill="#32cd32"/><rect x="501" y="345" width="1" height="17" fill="#32cd32"/><rect x="500" y="348" width="3" height="9" fill="#32cd32"/><rect x="505" y="345" width="1" height="14" fill="#ff0000"/><rect x="504" y="349" width="3" height="8" fill="#ff0000"/><rect x="505" y="350" width="1" height="6" fill="#ff4500"/><rect x="509" y="348" width="1" height="13" fill="#32cd32"/><rect x="508" y="350" width="3" height="3" fill="#32cd32"/><rect x="513" y="332" width="1" height="27" fill="#ff0000"/><rect x="512" y="346" width="3" height="7" fill="#ff0000"/><rect x="513" y="347" width="1" height="5" fill="#ff4500"/><rect x="517" y="336" width="1" height="18" fill="#32cd32"/><rect x="516" y="346" width="3" height="3" fill="#32cd32"/><rect x="521" y="348" width="1" height="4" fill="#ff0000"/><rect x="520" y="348" width="3" height="4" fill="#ff0000"/><rect x="521" y="349" width="1" height="2" fill="#ff4500"/><rect x="525" y="341" width="1" height="15" fill="#32cd32"/><rect x="524" y="350" width="3" height="2" fill="#32cd32"/><rect x="529" y="340" width="1" height="20" fill="#ff0000"/><rect x="528" y="347" width="3" height="6" fill="#ff0000"/><rect x="529" y="348" width="1" height="4" fill="#ff4500"/><rect x="533" y="345" width="1" height="22" fill="#32cd32"/><rect x="532" y="347" width="3" height="15" fill="#32cd32"/><rect x="537" y="357" width="1" height="17" fill="#32cd32"/><rect x="536" y="361" width="3" height="9" fill="#32cd32"/><rect x="541" y="361" width="1" height="12" fill="#ff0000"/><rect x="540" y="364" width="3" height="6" fill="#ff0000"/><rect x="541" y="365" width="1" height="4" fill="#ff4500"/><rect x="545" y="362" width="1" height="5" fill="#32cd32"/><rect x="544" y="363" width="3" height="2" fill="#32cd32"/><rect x="549" y="362" width="1" height="26" fill="#32cd32"/><rect x="548" y="364" width="3" height="21" fill="#32cd32"/><rect x="553" y="357" width="1" height="31" fill="#ff0000"/><rect x="552" y="362" width="3" height="23" fill="#ff0000"/><rect x="553" y="363" width="1" height="21" fill="#ff4500"/><rect x="557" y="361" width="1" height="21" fill="#32cd32"/><rect x="556" y="362" width="3" height="16" fill="#32cd32"/><rect x="561" y="335" width="1" height="45" fill="#ff0000"/><rect x="560" y="346" width="3" height="33" fill="#ff0000"/><rect x="561" y="347" width="1" height="31" fill="#ff4500"/><rect x="565" y="337" width="1" height="21" fill="#ff0000"/><rect x="564" y="344" width="3" height="3" fill="#ff0000"/><rect x="569" y="340" width="1" height="11" fill="#ff0000"/><rect x="568" y="343" width="3" height="3" fill="#ff0000"/><rect x="573" y="339" width="1" height="43" fill="#32cd32"/><rect x="572" y="343" width="3" height="36" fill="#32cd32"/><rect x="577" y="366" width="1" height="22" fill="#ff0000"/><rect x="576" y="373" width="3" height="5" fill="#ff0000"/><rect x="577" y="374" width="1" height="3" fill="#ff4500"/><rect x="581" y="353" width="1" height="28" fill="#ff0000"/><rect x="580" y="366" width="3" height="9" fill="#ff0000"/><rect x="581" y="367" width="1" height="7" fill="#ff4500"/><rect x="585" y="362" width="1" height="19" fill="#32cd32"/><rect x="584" y="365" width="3" height="12" fill="#32cd32"/><rect x="589" y="364" width="1" height="18" fill="#ff0000"/><rect x="588" y="374" width="3" height="3" fill="#ff0000"/><rect x="593" y="366" width="1" height="15" fill="#ff0000"/><rect x="592" y="366" width="3" height="15" fill="#ff0000"/><rect x="593" y="367" width="1" height="13" fill="#ff4500"/><rect x="597" y="341" width="1" height="31" fill="#ff0000"/><rect x="596" y="348" width="3" height="20" fill="#ff0000"/><rect x="597" y="349" width="1" height="18" fill="#ff4500"/><rect x="601" y="328" width="1" height="24" fill="#ff0000"/><rect x="600" y="332" width="3" height="18" fill="#ff0000"/><rect x="601" y="333" width="1" height="16" fill="#ff4500"/><rect x="605" y="331" width="1" height="20" fill="#32cd32"/><rect x="604" y="332" width="3" height="13" fill="#32cd32"/><rect x="609" y="327" width="1" height="22" fill="#ff0000"/><rect x="608" y="333" width="3" height="11" fill="#ff0000"/><rect x="609" y="334" width="1" height="9" fill="#ff4500"/><rect x="613" y="312" width="1" height="24" fill="#ff0000"/><rect x="612" y="313" width="3" height="22" fill="#ff0000"/><rect x="613" y="314" width="1" height="20" fill="#ff4500"/><rect x="617" y="312" width="1" height="4" fill="#32cd32"/><rect x="616" y="313" width="3" height="2" fill="#32cd32"/><rect x="621" y="299" width="1" height="26" fill="#ff0000"/><rect x="620" y="299" width="3" height="15" fill="#ff0000"/><rect x="621" y="300" width="1" height="13" fill="#ff4500"/><rect x="625" y="282" width="1" height="24" fill="#ff0000"/><rect x="624" y="290" width="3" height="11" fill="#ff0000"/><rect x="625" y="291" width="1" height="9" fill="#ff4500"/><rect x="629" y="272" width="1" height="27" fill="#ff0000"/><rect x="628" y="288" width="3" height="4" fill="#ff0000"/><rect x="629" y="289" width="1" height="2" fill="#ff4500"/><rect x="633" y="287" width="1" height="31" fill="#32cd32"/><rect x="632" y="288" width="3" height="22" fill="#32cd32"/><rect x="637" y="300" width="1" height="27" fill="#32cd32"/><rect x="636" y="308" width="3" height="17" fill="#32cd32"/><rect x="641" y="319" width="1" height="3" fill="#ff0000"/><rect x="640" y="320" width="3" height="2" fill="#ff0000"/><rect x="645" y="311" width="1" height="24" fill="#ff0000"/><rect x="644" y="316" width="3" height="5" fill="#ff0000"/><rect x="645" y="317" width="1" height="3" fill="#ff4500"/><rect x="649" y="303" width="1" height="25" fill="#32cd32"/><rect x="648" y="316" width="3" height="3" fill="#32cd32"/><rect x="653" y="309" width="1" height="24" fill="#32cd32"/><rect x="652" y="317" width="3" height="13" fill="#32cd32"/><rect x="657" y="314" width="1" height="21" fill="#32cd32"/><rect x="656" y="328" width="3" height="6" fill="#32cd32"/><rect x="661" y="325" width="1" height="22" fill="#ff0000"/><rect x="660" y="328" width="3" height="6" fill="#ff0000"/><rect x="661" y="329" width="1" height="4" fill="#ff4500"/><rect x="665" y="325" width="1" height="3" fill="#ff0000"/><rect x="664" y="326" width="3" height="2" fill="#ff0000"/><rect x="669" y="301" width="1" height="29" fill="#ff0000"/><rect x="668" y="318" width="3" height="10" fill="#ff0000"/><rect x="669" y="319" width="1" height="8" fill="#ff4500"/><rect x="673" y="303" width="1" height="31" fill="#32cd32"/><rect x="672" y="318" width="3" height="9" fill="#32cd32"/><rect x="677" y="326" width="1" height="36" fill="#32cd32"/><rect x="676" y="326" width="3" height="31" fill="#32cd32"/><rect x="681" y="346" width="1" height="26" fill="#32cd32"/><rect x="680" y="355" width="3" height="2" fill="#32cd32"/><rect x="685" y="338" width="1" height="24" fill="#ff0000"/><rect x="684" y="347" width="3" height="10" fill="#ff0000"/><rect x="685" y="348" width="1" height="8" fill="#ff4500"/><rect x="689" y="345" width="1" height="2" fill="#32cd32"/><rect x="688" y="345" width="3" height="2" fill="#32cd32"/><rect x="693" y="338" width="1" height="15" fill="#ff0000"/><rect x="692" y="344" width="3" height="4" fill="#ff0000"/><rect x="693" y="345" width="1" height="2" fill="#ff4500"/><rect x="697" y="331" width="1" height="25" fill="#ff0000"/><rect x="696" y="332" width="3" height="13" fill="#ff0000"/><rect x="697" y="333" width="1" height="11" fill="#ff4500"/><rect x="701" y="312" width="1" height="22" fill="#ff0000"/><rect x="700" y="320" width="3" height="14" fill="#ff0000"/><rect x="701" y="321" width="1" height="12" fill="#ff4500"/><rect x="705" y="313" width="1" height="13" fill="#ff0000"/><rect x="704" y="314" width="3" height="7" fill="#ff0000"/><rect x="705" y="315" width="1" height="5" fill="#ff4500"/><rect x="709" y="303" width="1" height="20" fill="#32cd32"/><rect x="708" y="314" width="3" height="4" fill="#32cd32"/><rect x="713" y="315" width="1" height="3" fill="#ff0000"/><rect x="712" y="315" width="3" height="3" fill="#ff0000"/><rect x="717" y="304" width="1" height="28" fill="#32cd32"/><rect x="716" y="315" width="3" height="12" fill="#32cd32"/><rect x="721" y="314" width="1" height="24" fill="#ff0000"/><rect x="720" y="321" width="3" height="6" fill="#ff0000"/><rect x="721" y="322" width="1" height="4" fill="#ff4500"/><rect x="725" y="310" width="1" height="18" fill="#ff0000"/><rect x="724" y="316" width="3" height="6" fill="#ff0000"/><rect x="725" y="317" width="1" height="4" fill="#ff4500"/><rect x="729" y="281" width="1" height="42" fill="#ff0000"/><rect x="728" y="282" width="3" height="36" fill="#ff0000"/><rect x="729" y="283" width="1" height="34" fill="#ff4500"/><rect x="733" y="278" width="1" height="14" fill="#32cd32"/><rect x="732" y="282" width="3" height="2" fill="#32cd32"/><rect x="737" y="283" width="1" height="3" fill="#ff0000"/><rect x="736" y="284" width="3" height="2" fill="#ff0000"/><rect x="741" y="274" width="1" height="14" fill="#ff0000"/><rect x="740" y="276" width="3" height="11" fill="#ff0000"/><rect x="741" y="277" width="1" height="9" fill="#ff4500"/><rect x="745" y="248" width="1" height="35" fill="#ff0000"/><rect x="744" y="249" width="3" height="29" fill="#ff0000"/><rect x="745" y="250" width="1" height="27" fill="#ff4500"/><rect x="749" y="243" width="1" height="33" fill="#32cd32"/><rect x="748" y="249" width="3" height="12" fill="#32cd32"/><rect x="753" y="238" width="1" height="36" fill="#ff0000"/><rect x="752" y="243" width="3" height="19" fill="#ff0000"/><rect x="753" y="244" width="1" height="17" fill="#ff4500"/><rect x="757" y="222" width="1" height="26" fill="#ff0000"/><rect x="756" y="231" width="3" height="13" fill="#ff0000"/><rect x="757" y="232" width="1" height="11" fill="#ff4500"/><rect x="761" y="232" width="1" height="5" fill="#32cd32"/><rect x="760" y="232" width="3" height="4" fill="#32cd32"/><rect x="765" y="221" width="1" height="20" fill="#ff0000"/><rect x="764" y="225" width="3" height="12" fill="#ff0000"/><rect x="765" y="226" width="1" height="10" fill="#ff4500"/><rect x="769" y="210" width="1" height="24" fill="#ff0000"/><rect x="768" y="211" width="3" height="15" fill="#ff0000"/><rect x="769" y="212" width="1" height="13" fill="#ff4500"/><rect x="773" y="182" width="1" height="32" fill="#ff0000"/><rect x="772" y="187" width="3" height="25" fill="#ff0000"/><rect x="773" y="188" width="1" height="23" fill="#ff4500"/><rect x="777" y="161" width="1" height="31" fill="#ff0000"/><rect x="776" y="176" width="3" height="12" fill="#ff0000"/><rect x="777" y="177" width="1" height="10" fill="#ff4500"/><rect x="781" y="170" width="1" height="25" fill="#32cd32"/><rect x="780" y="176" width="3" height="4" fill="#32cd32"/><rect x="785" y="167" width="1" height="5" fill="#ff0000"/><rect x="784" y="167" width="3" height="5" fill="#ff0000"/><rect x="785" y="168" width="1" height="3" fill="#ff4500"/><rect x="789" y="150" width="1" height="29" fill="#ff0000"/><rect x="788" y="154" width="3" height="14" fill="#ff0000"/><rect x="789" y="155" width="1" height="12" fill="#ff4500"/><rect x="793" y="146" width="1" height="30" fill="#ff0000"/><rect x="792" y="150" width="3" height="6" fill="#ff0000"/><rect x="793" y="151" width="1" height="4" fill="#ff4500"/><rect x="797" y="126" width="1" height="51" fill="#32cd32"/><rect x="796" y="150" width="3" height="20" fill="#32cd32"/><rect x="801" y="112" width="1" height="68" fill="#ff0000"/><rect x="800" y="126" width="3" height="46" fill="#ff0000"/><rect x="801" y="127" width="1" height="44" fill="#ff4500"/><rect x="805" y="113" width="1" height="24" fill="#ff0000"/><rect x="804" y="116" width="3" height="12" fill="#ff0000"/><rect x="805" y="117" width="1" height="10" fill="#ff4500"/><rect x="809" y="111" width="1" height="4" fill="#ff0000"/><rect x="808" y="112" width="3" height="2" fill="#ff0000"/><rect x="813" y="84" width="1" height="29" fill="#ff0000"/><rect x="812" y="97" width="3" height="16" fill="#ff0000"/><rect x="813" y="98" width="1" height="14" fill="#ff4500"/><rect x="817" y="81" width="1" height="22" fill="#ff0000"/><rect x="816" y="87" width="3" height="11" fill="#ff0000"/><rect x="817" y="88" width="1" height="9" fill="#ff4500"/><rect x="821" y="85" width="1" height="36" fill="#32cd32"/><rect x="820" y="87" width="3" height="6" fill="#32cd32"/><rect x="825" y="53" width="1" height="46" fill="#ff0000"/><rect x="824" y="59" width="3" height="34" fill="#ff0000"/><rect x="825" y="60" width="1" height="32" fill="#ff4500"/><rect x="829" y="54" width="1" height="23" fill="#32cd32"/><rect x="828" y="60" width="3" height="2" fill="#32cd32"/><rect x="833" y="60" width="1" height="5" fill="#ff0000"/><rect x="832" y="63" width="3" height="1" fill="#ff0000"/><rect x="837" y="48" width="1" height="23" fill="#32cd32"/><rect x="836" y="63" width="3" height="2" fill="#32cd32"/><rect x="841" y="62" width="1" height="42" fill="#32cd32"/><rect x="840" y="65" width="3" height="32" fill="#32cd32"/><rect x="845" y="77" width="1" height="48" fill="#32cd32"/><rect x="844" y="95" width="3" height="25" fill="#32cd32"/><rect x="849" y="118" width="1" height="68" fill="#32cd32"/><rect x="848" y="119" width="3" height="57" fill="#32cd32"/><rect x="853" y="159" width="1" height="28" fill="#ff0000"/><rect x="852" y="161" width="3" height="15" fill="#ff0000"/><rect x="853" y="162" width="1" height="13" fill="#ff4500"/><rect x="857" y="164" width="1" height="4" fill="#ff0000"/><rect x="856" y="164" width="3" height="3" fill="#ff0000"/><rect x="861" y="164" width="1" height="48" fill="#32cd32"/><rect x="860" y="164" width="3" height="36" fill="#32cd32"/><rect x="865" y="194" width="1" height="37" fill="#32cd32"/><rect x="864" y="198" width="3" height="22" fill="#32cd32"/><rect x="869" y="204" width="1" height="18" fill="#ff0000"/><rect x="868" y="214" width="3" height="7" fill="#ff0000"/><rect x="869" y="215" width="1" height="5" fill="#ff4500"/><rect x="873" y="208" width="1" height="20" fill="#32cd32"/><rect x="872" y="214" width="3" height="13" fill="#32cd32"/><rect x="877" y="219" width="1" height="23" fill="#32cd32"/><rect x="876" y="225" width="3" height="5" fill="#32cd32"/><rect x="881" y="226" width="1" height="5" fill="#ff0000"/><rect x="880" y="227" width="3" height="3" fill="#ff0000"/><rect x="885" y="217" width="1" height="22" fill="#ff0000"/><rect x="884" y="226" width="3" height="3" fill="#ff0000"/><rect x="889" y="212" width="1" height="22" fill="#ff0000"/><rect x="888" y="221" width="3" height="7" fill="#ff0000"/><rect x="889" y="222" width="1" height="5" fill="#ff4500"/><rect x="893" y="198" width="1" height="28" fill="#ff0000"/><rect x="892" y="208" width="3" height="14" fill="#ff0000"/><rect x="893" y="209" width="1" height="12" fill="#ff4500"/><rect x="897" y="206" width="1" height="27" fill="#32cd32"/><rect x="896" y="208" width="3" height="23" fill="#32cd32"/><rect x="901" y="204" width="1" height="34" fill="#ff0000"/><rect x="900" y="211" width="3" height="19" fill="#ff0000"/><rect x="901" y="212" width="1" height="17" fill="#ff4500"/><rect x="905" y="210" width="1" height="4" fill="#32cd32"/><rect x="904" y="210" width="3" height="4" fill="#32cd32"/><rect x="909" y="177" width="1" height="43" fill="#ff0000"/><rect x="908" y="178" width="3" height="35" fill="#ff0000"/><rect x="909" y="179" width="1" height="33" fill="#ff4500"/><rect x="913" y="153" width="1" height="30" fill="#ff0000"/><rect x="912" y="169" width="3" height="11" fill="#ff0000"/><rect x="913" y="170" width="1" height="9" fill="#ff4500"/><rect x="917" y="149" width="1" height="23" fill="#ff0000"/><rect x="916" y="150" width="3" height="22" fill="#ff0000"/><rect x="917" y="151" width="1" height="20" fill="#ff4500"/><rect x="921" y="139" width="1" height="37" fill="#ff0000"/><rect x="920" y="144" width="3" height="8" fill="#ff0000"/><rect x="921" y="145" width="1" height="6" fill="#ff4500"/><rect x="925" y="109" width="1" height="51" fill="#ff0000"/><rect x="924" y="116" width="3" height="31" fill="#ff0000"/><rect x="925" y="117" width="1" height="29" fill="#ff4500"/></g>
<g><rect x="4" y="471" width="3" height="5" fill="#c0c0c0"/><rect x="8" y="469" width="3" height="7" fill="#c0c0c0"/><rect x="12" y="466" width="3" height="10" fill="#c0c0c0"/><rect x="16" y="464" width="3" height="12" fill="#c0c0c0"/><rect x="20" y="463" width="3" height="13" fill="#c0c0c0"/><rect x="24" y="464" width="3" height="12" fill="#c0c0c0"/><rect x="28" y="464" width="3" height="12" fill="#c0c0c0"/><rect x="32" y="465" width="3" height="11" fill="#c0c0c0"/><rect x="36" y="466" width="3" height="10" fill="#c0c0c0"/><rect x="40" y="466" width="3" height="10" fill="#c0c0c0"/><rect x="44" y="465" width="3" height="11" fill="#c0c0c0"/><rect x="48" y="465" width="3" height="11" fill="#c0c0c0"/><rect x="52" y="465" width="3" height="11" fill="#c0c0c0"/><rect x="56" y="465" width="3" height="11" fill="#c0c0c0"/><rect x="60" y="465" width="3" height="11" fill="#c0c0c0"/><rect x="64" y="465" width="3" height="11" fill="#c0c0c0"/><rect x="68" y="465" width="3" height="11" fill="#c0c0c0"/><rect x="72" y="466" width="3" height="10" fill="#c0c0c0"/><rect x="76" y="466" width="3" height="10" fill="#c0c0c0"/><rect x="80" y="467" width="3" height="9" fill="#c0c0c0"/><rect x="84" y="468" width="3" height="8" fill="#c0c0c0"/><rect x="88" y="469" width="3" height="7" fill="#c0c0c0"/><rect x="92" y="469" width="3" height="7" fill="#c0c0c0"/><rect x="96" y="470" width="3" height="6" fill="#c0c0c0"/><rect x="100" y="471" width="3" height="5" fill="#c0c0c0"/><rect x="104" y="472" width="3" height="4" fill="#c0c0c0"/><rect x="108" y="473" width="3" height="3" fill="#c0c0c0"/><rect x="112" y="474" width="3" height="2" fill="#c0c0c0"/><rect x="116" y="475" width="3" height="1" fill="#c0c0c0"/><rect x="120" y="475" width="3" height="2" fill="#c0c0c0"/><rect x="124" y="475" width="3" height="4" fill="#c0c0c0"/><rect x="128" y="475" width="3" height="6" fill="#c0c0c0"/><rect x="132" y="475" width="3" height="8" fill="#c0c0c0"/><rect x="136" y="475" width="3" height="8" fill="#c0c0c0"/><rect x="140" y="475" width="3" height="8" fill="#c0c0c0"/><rect x="144" y="475" width="3" height="9" fill="#c0c0c0"/><rect x="148" y="475" width="3" height="9" fill="#c0c0c0"/><rect x="152" y="475" width="3" height="10" fill="#c0c0c0"/><rect x="156" y="475" width="3" height="11" fill="#c0c0c0"/><rect x="160" y="475" width="3" height="11" fill="#c0c0c0"/><rect x="164" y="475" width="3" height="12" fill="#c0c0c0"/><rect x="168" y="475" width="3" height="12" fill="#c0c0c0"/><rect x="172" y="475" width="3" height="12" fill="#c0c0c0"/><rect x="176" y="475" width="3" height="12" fill="#c0c0c0"/><rect x="180" y="475" width="3" height="12" fill="#c0c0c0"/><rect x="184" y="475" width="3" height="12" fill="#c0c0c0"/><rect x="188" y="475" width="3" height="12" fill="#c0c0c0"/><rect x="192" y="475" width="3" height="11" fill="#c0c0c0"/><rect x="196" y="475" width="3" height="10" fill="#c0c0c0"/><rect x="200" y="475" width="3" height="8" fill="#c0c0c0"/><rect x="204" y="475" width="3" height="6" fill="#c0c0c0"/><rect x="208" y="475" width="3" height="4" fill="#c0c0c0"/><rect x="212" y="475" width="3" height="2" fill="#c0c0c0"/><rect x="216" y="473" width="3" height="3" fill="#c0c0c0"/><rect x="220" y="471" width="3" height="5" fill="#c0c0c0"/><rect x="224" y="470" width="3" height="6" fill="#c0c0c0"/><rect x="228" y="469" width="3" height="7" fill="#c0c0c0"/><rect x="232" y="468" width="3" height="8" fill="#c0c0c0"/><rect x="236" y="466" width="3" height="10" fill="#c0c0c0"/><rect x="240" y="464" width="3" height="12" fill="#c0c0c0"/><rect x="244" y="463" width="3" height="13" fill="#c0c0c0"/><rect x="248" y="461" width="3" height="15" fill="#c0c0c0"/><rect x="252" y="463" width="3" height="13" fill="#c0c0c0"/><rect x="256" y="466" width="3" height="10" fill="#c0c0c0"/><rect x="260" y="468" width="3" height="8" fill="#c0c0c0"/><rect x="264" y="470" width="3" height="6" fill="#c0c0c0"/><rect x="268" y="473" width="3" height="3" fill="#c0c0c0"/><rect x="272" y="475" width="3" height="1" fill="#c0c0c0"/><rect x="276" y="475" width="3" height="2" fill="#c0c0c0"/><rect x="280" y="475" width="3" height="3" fill="#c0c0c0"/><rect x="284" y="475" width="3" height="2" fill="#c0c0c0"/><rect x="288" y="475" width="3" height="2" fill="#c0c0c0"/><rect x="292" y="475" width="3" height="2" fill="#c0c0c0"/><rect x="296" y="475" width="3" height="2" fill="#c0c0c0"/><rect x="300" y="475" width="3" height="2" fill="#c0c0c0"/><rect x="304" y="475" width="3" height="2" fill="#c0c0c0"/><rect x="308" y="475" width="3" height="2" fill="#c0c0c0"/><rect x="312" y="475" width="3" height="2" fill="#c0c0c0"/><rect x="316" y="475" width="3" height="2" fill="#c0c0c0"/><rect x="320" y="475" width="3" height="2" fill="#c0c0c0"/><rect x="324" y="475" width="3" height="2" fill="#c0c0c0"/><rect x="328" y="475" width="3" height="2" fill="#c0c0c0"/><rect x="332" y="475" width="3" height="2" fill="#c0c0c0"/><rect x="336" y="475" width="3" height="2" fill="#c0c0c0"/><rect x="340" y="475" width="3" height="2" fill="#c0c0c0"/><rect x="344" y="475" width="3" height="2" fill="#c0c0c0"/><rect x="348" y="475" width="3" height="3" fill="#c0c0c0"/><rect x="352" y="475" width="3" height="4" fill="#c0c0c0"/><rect x="356" y="475" width="3" height="5" fill="#c0c0c0"/><rect x="360" y="475" width="3" height="6" fill="#c0c0c0"/><rect x="364" y="475" width="3" height="8" fill="#c0c0c0"/><rect x="368" y="475" width="3" height="9" fill="#c0c0c0"/><rect x="372" y="475" width="3" height="10" fill="#c0c0c0"/><rect x="376" y="475" width="3" height="11" fill="#c0c0c0"/><rect x="380" y="475" width="3" height="10" fill="#c0c0c0"/><rect x="384" y="475" width="3" height="9" fill="#c0c0c0"/><rect x="388" y="475" width="3" height="7" fill="#c0c0c0"/><rect x="392" y="475" width="3" height="7" fill="#c0c0c0"/><rect x="396" y="475" width="3" height="6" fill="#c0c0c0"/><rect x="400" y="475" width="3" height="5" fill="#c0c0c0"/><rect x="404" y="475" width="3" height="3" fill="#c0c0c0"/><rect x="408" y="475" width="3" height="2" fill="#c0c0c0"/><rect x="412" y="475" width="3" height="2" fill="#c0c0c0"/><rect x="416" y="475" width="3" height="3" fill="#c0c0c0"/><rect x="420" y="475" width="3" height="5" fill="#c0c0c0"/><rect x="424" y="475" width="3" height="6" fill="#c0c0c0"/><rect x="428" y="475" width="3" height="6" fill="#c0c0c0"/><rect x="432" y="475" width="3" height="6" fill="#c0c0c0"/><rect x="436" y="475" width="3" height="5" fill="#c0c0c0"/><rect x="440" y="475" width="3" height="5" fill="#c0c0c0"/><rect x="444" y="475" width="3" height="5" fill="#c0c0c0"/><rect x="448" y="475" width="3" height="6" fill="#c0c0c0"/><rect x="452" y="475" width="3" height="6" fill="#c0c0c0"/><rect x="456" y="475" width="3" height="5" fill="#c0c0c0"/><rect x="460" y="475" width="3" height="4" fill="#c0c0c0"/><rect x="464" y="474" width="3" height="2" fill="#c0c0c0"/><rect x="468" y="470" width="3" height="6" fill="#c0c0c0"/><rect x="472" y="467" width="3" height="9" fill="#c0c0c0"/><rect x="476" y="467" width="3" height="9" fill="#c0c0c0"/><rect x="480" y="468" width="3" height="8" fill="#c0c0c0"/><rect x="484" y="470" width="3" height="6" fill="#c0c0c0"/><rect x="488" y="470" width="3" height="6" fill="#c0c0c0"/><rect x="492" y="470" width="3" height="6" fill="#c0c0c0"/><rect x="496" y="470" width="3" height="6" fill="#c0c0c0"/><rect x="500" y="470" width="3" height="6" fill="#c0c0c0"/><rect x="504" y="470" width="3" height="6" fill="#c0c0c0"/><rect x="508" y="470" width="3" height="6" fill="#c0c0c0"/><rect x="512" y="470" width="3" height="6" fill="#c0c0c0"/><rect x="516" y="470" width="3" height="6" fill="#c0c0c0"/><rect x="520" y="471" width="3" height="5" fill="#c0c0c0"/><rect x="524" y="471" width="3" height="5" fill="#c0c0c0"/><rect x="528" y="471" width="3" height="5" fill="#c0c0c0"/><rect x="532" y="472" width="3" height="4" fill="#c0c0c0"/><rect x="536" y="473" width="3" height="3" fill="#c0c0c0"/><rect x="540" y="474" width="3" height="2" fill="#c0c0c0"/><rect x="544" y="475" width="3" height="1" fill="#c0c0c0"/><rect x="548" y="475" width="3" height="2" fill="#c0c0c0"/><rect x="552" y="475" width="3" height="3" fill="#c0c0c0"/><rect x="556" y="475" width="3" height="4" fill="#c0c0c0"/><rect x="560" y="475" width="3" height="3" fill="#c0c0c0"/><rect x="564" y="475" width="3" height="1" fill="#c0c0c0"/><rect x="568" y="474" width="3" height="2" fill="#c0c0c0"/><rect x="572" y="475" width="3" height="1" fill="#c0c0c0"/><rect x="576" y="475" width="3" height="2" fill="#c0c0c0"/><rect x="580" y="475" width="3" height="2" fill="#c0c0c0"/><rect x="584" y="475" width="3" height="4" fill="#c0c0c0"/><rect x="588" y="475" width="3" height="4" fill="#c0c0c0"/><rect x="592" y="475" width="3" height="4" fill="#c0c0c0"/><rect x="596" y="475" width="3" height="2" fill="#c0c0c0"/><rect x="600" y="474" width="3" height="2" fill="#c0c0c0"/><rect x="604" y="473" width="3" height="3" fill="#c0c0c0"/><rect x="608" y="471" width="3" height="5" fill="#c0c0c0"/><rect x="612" y="469" width="3" height="7" fill="#c0c0c0"/><rect x="616" y="466" width="3" height="10" fill="#c0c0c0"/><rect x="620" y="464" width="3" height="12" fill="#c0c0c0"/><rect x="624" y="462" width="3" height="14" fill="#c0c0c0"/><rect x="628" y="460" width="3" height="16" fill="#c0c0c0"/><rect x="632" y="460" width="3" height="16" fill="#c0c0c0"/><rect x="636" y="461" width="3" height="15" fill="#c0c0c0"/><rect x="640" y="462" width="3" height="14" fill="#c0c0c0"/><rect x="644" y="463" width="3" height="13" fill="#c0c0c0"/><rect x="648" y="465" width="3" height="11" fill="#c0c0c0"/><rect x="652" y="466" width="3" height="10" fill="#c0c0c0"/><rect x="656" y="467" width="3" height="9" fill="#c0c0c0"/><rect x="660" y="468" width="3" height="8" fill="#c0c0c0"/><rect x="664" y="469" width="3" height="7" fill="#c0c0c0"/><rect x="668" y="469" width="3" height="7" fill="#c0c0c0"/><rect x="672" y="470" width="3" height="6" fill="#c0c0c0"/><rect x="676" y="472" width="3" height="4" fill="#c0c0c0"/><rect x="680" y="475" width="3" height="1" fill="#c0c0c0"/><rect x="684" y="475" width="3" height="2" fill="#c0c0c0"/><rect x="688" y="475" width="3" height="3" fill="#c0c0c0"/><rect x="692" y="475" width="3" height="3" fill="#c0c0c0"/><rect x="696" y="475" width="3" height="3" fill="#c0c0c0"/><rect x="700" y="475" width="3" height="2" fill="#c0c0c0"/><rect x="704" y="475" width="3" height="1" fill="#c0c0c0"/><rect x="708" y="473" width="3" height="3" fill="#c0c0c0"/><rect x="712" y="472" width="3" height="4" fill="#c0c0c0"/><rect x="716" y="472" width="3" height="4" fill="#c0c0c0"/><rect x="720" y="472" width="3" height="4" fill="#c0c0c0"/><rect x="724" y="471" width="3" height="5" fill="#c0c0c0"/><rect x="728" y="469" width="3" height="7" fill="#c0c0c0"/><rect x="732" y="467" width="3" height="9" fill="#c0c0c0"/><rect x="736" y="466" width="3" height="10" fill="#c0c0c0"/><rect x="740" y="464" width="3" height="12" fill="#c0c0c0"/><rect x="744" y="461" width="3" height="15" fill="#c0c0c0"/><rect x="748" y="459" width="3" height="17" fill="#c0c0c0"/><rect x="752" y="457" width="3" height="19" fill="#c0c0c0"/><rect x="756" y="455" width="3" height="21" fill="#c0c0c0"/><rect x="760" y="453" width="3" height="23" fill="#c0c0c0"/><rect x="764" y="451" width="3" height="25" fill="#c0c0c0"/><rect x="768" y="450" width="3" height="26" fill="#c0c0c0"/><rect x="772" y="447" width="3" height="29" fill="#c0c0c0"/><rect x="776" y="445" width="3" height="31" fill="#c0c0c0"/><rect x="780" y="443" width="3" height="33" fill="#c0c0c0"/><rect x="784" y="441" width="3" height="35" fill="#c0c0c0"/><rect x="788" y="439" width="3" height="37" fill="#c0c0c0"/><rect x="792" y="438" width="3" height="38" fill="#c0c0c0"/><rect x="796" y="437" width="3" height="39" fill="#c0c0c0"/><rect x="800" y="436" width="3" height="40" fill="#c0c0c0"/><rect x="804" y="434" width="3" height="42" fill="#c0c0c0"/><rect x="808" y="433" width="3" height="43" fill="#c0c0c0"/><rect x="812" y="432" width="3" height="44" fill="#c0c0c0"/><rect x="816" y="430" width="3" height="46" fill="#c0c0c0"/><rect x="820" y="429" width="3" height="47" fill="#c0c0c0"/><rect x="824" y="428" width="3" height="48" fill="#c0c0c0"/><rect x="828" y="427" width="3" height="49" fill="#c0c0c0"/><rect x="832" y="426" width="3" height="50" fill="#c0c0c0"/><rect x="836" y="427" width="3" height="49" fill="#c0c0c0"/><rect x="840" y="429" width="3" height="47" fill="#c0c0c0"/><rect x="844" y="435" width="3" height="41" fill="#c0c0c0"/><rect x="848" y="443" width="3" height="33" fill="#c0c0c0"/><rect x="852" y="449" width="3" height="27" fill="#c0c0c0"/><rect x="856" y="454" width="3" height="22" fill="#c0c0c0"/><rect x="860" y="461" width="3" height="15" fill="#c0c0c0"/><rect x="864" y="467" width="3" height="9" fill="#c0c0c0"/><rect x="868" y="473" width="3" height="3" fill="#c0c0c0"/><rect x="872" y="475" width="3" height="4" fill="#c0c0c0"/><rect x="876" y="475" width="3" height="8" fill="#c0c0c0"/><rect x="880" y="475" width="3" height="11" fill="#c0c0c0"/><rect x="884" y="475" width="3" height="13" fill="#c0c0c0"/><rect x="888" y="475" width="3" height="14" fill="#c0c0c0"/><rect x="892" y="475" width="3" height="15" fill="#c0c0c0"/><rect x="896" y="475" width="3" height="15" fill="#c0c0c0"/><rect x="900" y="475" width="3" height="15" fill="#c0c0c0"/><rect x="904" y="475" width="3" height="14" fill="#c0c0c0"/><rect x="908" y="475" width="3" height="12" fill="#c0c0c0"/><rect x="912" y="475" width="3" height="9" fill="#c0c0c0"/><rect x="916" y="475" width="3" height="5" fill="#c0c0c0"/><rect x="920" y="475" width="3" height="3" fill="#c0c0c0"/><rect x="924" y="471" width="3" height="5" fill="#c0c0c0"/></g>
<path d="M27 467h4v1h-4zM87 467h4v1h-4zM248 467h3v1h-3zM271 467h4v1h-4zM630 467h2v1h-2zM674 467h2v1h-2zM746 467h2v1h-2zM6 473h2v1h-2zM119 473h4v1h-4zM234 473h2v1h-2zM288 473h3v1h-3zM482 473h2v1h-2zM551 473h4v1h-4zM614 473h2v1h-2zM695 473h4v1h-4zM726 473h2v1h-2zM123 474h4v1h-4zM231 474h3v1h-3zM291 474h3v1h-3zM479 474h3v1h-3zM555 474h12v1h-12zM611 474h3v1h-3zM699 474h4v1h-4zM719 474h7v1h-7zM8 472h3v1h-3zM115 472h4v1h-4zM236 472h2v1h-2zM286 472h2v1h-2zM484 472h3v1h-3zM547 472h4v1h-4zM616 472h3v1h-3zM691 472h4v1h-4zM728 472h3v1h-3zM127 475h4v1h-4zM228 475h3v1h-3zM294 475h2v1h-2zM475 475h4v1h-4zM567 475h12v1h-12zM603 475h8v1h-8zM703 475h16v1h-16zM31 466h12v1h-12zM71 466h16v1h-16zM251 466h8v1h-8zM267 466h4v1h-4zM632 466h3v1h-3zM671 466h3v1h-3zM748 466h3v1h-3zM43 465h28v1h-28zM259 465h8v1h-8zM635 465h4v1h-4zM667 465h4v1h-4zM751 465h3v1h-3zM11 471h4v1h-4zM111 471h4v1h-4zM238 471h2v1h-2zM284 471h2v1h-2zM487 471h4v1h-4zM539 471h8v1h-8zM619 471h3v1h-3zM687 471h4v1h-4zM731 471h4v1h-4zM23 468h4v1h-4zM91 468h8v1h-8zM246 468h2v1h-2zM275 468h4v1h-4zM627 468h3v1h-3zM676 468h3v1h-3zM743 468h3v1h-3zM639 464h4v1h-4zM659 464h8v1h-8zM754 464h2v1h-2zM788 447h2v1h-2zM827 431h4v1h-4zM850 431h2v1h-2zM143 479h8v1h-8zM220 479h2v1h-2zM367 479h8v1h-8zM411 479h4v1h-4zM435 479h12v1h-12zM462 479h2v1h-2zM131 476h4v1h-4zM226 476h2v1h-2zM296 476h51v1h-51zM471 476h4v1h-4zM579 476h24v1h-24zM796 443h2v1h-2zM15 470h4v1h-4zM103 470h8v1h-8zM240 470h3v1h-3zM282 470h2v1h-2zM491 470h8v1h-8zM515 470h24v1h-24zM622 470h2v1h-2zM683 470h4v1h-4zM735 470h4v1h-4zM135 477h4v1h-4zM224 477h2v1h-2zM347 477h16v1h-16zM467 477h4v1h-4zM891 477h2v1h-2zM823 432h4v1h-4zM852 432h2v1h-2zM151 480h4v1h-4zM218 480h2v1h-2zM375 480h4v1h-4zM407 480h4v1h-4zM447 480h15v1h-15zM895 480h2v1h-2zM163 483h4v1h-4zM210 483h2v1h-2zM899 483h2v1h-2zM924 483h2v1h-2zM19 469h4v1h-4zM99 469h4v1h-4zM243 469h3v1h-3zM279 469h3v1h-3zM499 469h16v1h-16zM624 469h3v1h-3zM679 469h4v1h-4zM739 469h4v1h-4zM835 429h4v1h-4zM843 429h4v1h-4zM760 461h2v1h-2zM183 486h20v1h-20zM904 486h3v1h-3zM915 486h4v1h-4zM139 478h4v1h-4zM222 478h2v1h-2zM363 478h4v1h-4zM415 478h20v1h-20zM464 478h3v1h-3zM808 438h2v1h-2zM159 482h4v1h-4zM212 482h3v1h-3zM387 482h16v1h-16zM643 463h16v1h-16zM756 463h2v1h-2zM907 487h8v1h-8zM175 485h8v1h-8zM203 485h4v1h-4zM902 485h2v1h-2zM919 485h3v1h-3zM784 449h2v1h-2zM818 434h2v1h-2zM855 434h2v1h-2zM786 448h2v1h-2zM155 481h4v1h-4zM215 481h3v1h-3zM379 481h8v1h-8zM403 481h4v1h-4zM774 454h2v1h-2zM798 442h2v1h-2zM794 444h2v1h-2zM803 440h3v1h-3zM831 430h4v1h-4zM847 430h3v1h-3zM780 451h2v1h-2zM790 446h2v1h-2zM776 453h2v1h-2zM815 435h3v1h-3zM778 452h2v1h-2zM810 437h2v1h-2zM768 457h2v1h-2zM772 455h2v1h-2zM839 428h4v1h-4zM167 484h8v1h-8zM207 484h3v1h-3zM922 484h2v1h-2zM820 433h3v1h-3zM782 450h2v1h-2zM806 439h2v1h-2zM800 441h3v1h-3zM770 456h2v1h-2zM792 445h2v1h-2zM812 436h3v1h-3zM762 460h2v1h-2zM766 458h2v1h-2zM764 459h2v1h-2zM758 462h2v1h-2zM882 467h1v1h-1zM887 473h1v1h-1zM5 474h1v1h-1zM888 474h1v1h-1zM886 472h1v1h-1zM889 475h1v1h-1zM881 466h1v1h-1zM880 465h1v1h-1zM885 471h1v1h-1zM883 468h1v2h-1zM879 463h1v2h-1zM867 446h1v2h-1zM894 479h1v1h-1zM890 476h1v1h-1zM864 443h1v1h-1zM884 470h1v1h-1zM877 461h1v1h-1zM893 478h1v1h-1zM860 438h1v1h-1zM898 482h1v1h-1zM869 449h1v1h-1zM868 448h1v1h-1zM897 481h1v1h-1zM872 453h1v2h-1zM863 441h1v2h-1zM865 444h1v1h-1zM862 440h1v1h-1zM870 450h1v2h-1zM857 435h1v1h-1zM871 452h1v1h-1zM859 437h1v1h-1zM874 456h1v2h-1zM873 455h1v1h-1zM901 484h1v1h-1zM854 433h1v1h-1zM861 439h1v1h-1zM866 445h1v1h-1zM858 436h1v1h-1zM876 459h1v2h-1zM875 458h1v1h-1zM878 462h1v1h-1z" fill="#ff0000"/>
<line x1="6" y1="518.5" x2="1167" y2="518.5" stroke="#c0c0c0" stroke-width="1" stroke-dasharray="3 3"/>
<line x1="6" y1="547.5" x2="1167" y2="547.5" stroke="#c0c0c0" stroke-width="1" stroke-dasharray="3 3"/>
<path d="M103 534h3v1h-3zM255 534h4v1h-4zM294 534h2v1h-2zM299 534h8v1h-8zM332 534h2v1h-2zM388 534h2v1h-2zM432 534h3v1h-3zM439 534h3v1h-3zM484 534h6v1h-6zM146 538h2v1h-2zM186 538h2v1h-2zM275 538h7v1h-7zM356 538h3v1h-3zM415 538h2v1h-2zM419 538h4v1h-4zM445 538h5v1h-5zM678 538h2v1h-2zM682 538h2v1h-2zM901 538h2v1h-2zM119 537h3v1h-3zM141 537h5v1h-5zM188 537h2v1h-2zM264 537h11v1h-11zM343 537h4v1h-4zM354 537h2v1h-2zM423 537h4v1h-4zM450 537h2v1h-2zM536 537h2v1h-2zM575 537h3v1h-3zM587 537h3v1h-3zM684 537h3v1h-3zM903 537h3v1h-3zM35 530h4v1h-4zM67 530h2v1h-2zM71 530h8v1h-8zM82 530h2v1h-2zM87 530h7v1h-7zM201 530h2v1h-2zM498 530h2v1h-2zM503 530h8v1h-8zM519 530h8v1h-8zM637 530h2v1h-2zM651 530h2v1h-2zM666 530h2v1h-2zM670 530h2v1h-2zM715 530h2v1h-2zM718 530h2v1h-2zM910 530h2v1h-2zM125 540h2v1h-2zM157 540h2v1h-2zM172 540h11v1h-11zM890 540h2v1h-2zM894 540h2v1h-2zM130 542h2v1h-2zM365 542h2v1h-2zM865 542h2v1h-2zM871 542h4v1h-4zM883 542h4v1h-4zM62 527h2v1h-2zM211 527h2v1h-2zM607 527h2v1h-2zM702 527h2v1h-2zM707 527h4v1h-4zM915 527h2v1h-2zM108 536h11v1h-11zM262 536h2v1h-2zM341 536h2v1h-2zM347 536h7v1h-7zM383 536h3v1h-3zM427 536h3v1h-3zM452 536h2v1h-2zM534 536h2v1h-2zM538 536h2v1h-2zM555 536h2v1h-2zM573 536h2v1h-2zM578 536h2v1h-2zM583 536h4v1h-4zM590 536h2v1h-2zM687 536h4v1h-4zM849 536h2v1h-2zM123 539h2v1h-2zM148 539h2v1h-2zM159 539h3v1h-3zM170 539h2v1h-2zM183 539h3v1h-3zM191 539h2v1h-2zM359 539h3v1h-3zM417 539h2v1h-2zM680 539h2v1h-2zM892 539h2v1h-2zM899 539h2v1h-2zM51 523h2v1h-2zM55 523h3v1h-3zM219 523h3v1h-3zM235 523h2v1h-2zM615 523h3v1h-3zM59 525h2v1h-2zM228 525h6v1h-6zM405 525h2v1h-2zM610 525h2v1h-2zM918 525h2v1h-2zM26 529h2v1h-2zM31 529h4v1h-4zM39 529h4v1h-4zM79 529h3v1h-3zM94 529h2v1h-2zM203 529h7v1h-7zM493 529h5v1h-5zM511 529h8v1h-8zM562 529h2v1h-2zM639 529h4v1h-4zM668 529h2v1h-2zM699 529h2v1h-2zM720 529h3v1h-3zM912 529h2v1h-2zM101 535h2v1h-2zM106 535h2v1h-2zM253 535h2v1h-2zM259 535h3v1h-3zM381 535h2v1h-2zM386 535h2v1h-2zM430 535h2v1h-2zM435 535h4v1h-4zM540 535h6v1h-6zM580 535h3v1h-3zM592 535h2v1h-2zM691 535h3v1h-3zM851 535h7v1h-7zM624 519h6v1h-6zM740 519h2v1h-2zM28 528h3v1h-3zM43 528h3v1h-3zM64 528h2v1h-2zM96 528h2v1h-2zM564 528h6v1h-6zM603 528h2v1h-2zM643 528h7v1h-7zM711 528h3v1h-3zM723 528h3v1h-3zM132 543h6v1h-6zM367 543h4v1h-4zM375 543h3v1h-3zM875 543h8v1h-8zM296 533h3v1h-3zM307 533h3v1h-3zM330 533h2v1h-2zM334 533h2v1h-2zM398 533h2v1h-2zM482 533h2v1h-2zM656 533h3v1h-3zM127 541h3v1h-3zM363 541h2v1h-2zM863 541h2v1h-2zM867 541h4v1h-4zM887 541h3v1h-3zM896 541h2v1h-2zM47 526h2v1h-2zM226 526h2v1h-2zM704 526h3v1h-3zM239 521h4v1h-4zM247 521h3v1h-3zM467 521h7v1h-7zM620 521h2v1h-2zM735 521h3v1h-3zM774 510h2v1h-2zM779 510h4v1h-4zM807 510h4v1h-4zM820 510h3v1h-3zM770 512h2v1h-2zM801 512h2v1h-2zM53 522h2v1h-2zM217 522h2v1h-2zM237 522h2v1h-2zM465 522h2v1h-2zM618 522h2v1h-2zM923 522h2v1h-2zM285 532h2v1h-2zM310 532h2v1h-2zM325 532h5v1h-5zM336 532h2v1h-2zM400 532h2v1h-2zM654 532h2v1h-2zM659 532h4v1h-4zM776 509h3v1h-3zM783 509h4v1h-4zM811 509h4v1h-4zM818 509h2v1h-2zM823 509h4v1h-4zM831 509h7v1h-7zM69 531h2v1h-2zM84 531h3v1h-3zM287 531h3v1h-3zM312 531h6v1h-6zM500 531h3v1h-3zM527 531h3v1h-3zM663 531h3v1h-3zM672 531h2v1h-2zM13 520h5v1h-5zM243 520h4v1h-4zM622 520h2v1h-2zM729 520h6v1h-6zM738 520h2v1h-2zM750 518h2v1h-2zM612 524h3v1h-3zM920 524h2v1h-2zM754 516h2v1h-2zM759 516h4v1h-4zM766 514h2v1h-2zM371 544h4v1h-4zM756 515h3v1h-3zM763 515h3v1h-3zM787 508h7v1h-7zM815 508h3v1h-3zM827 508h4v1h-4zM768 513h2v1h-2zM799 513h2v1h-2zM752 517h2v1h-2zM772 511h2v1h-2zM803 511h4v1h-4zM100 533h1v2h-1zM197 534h1v1h-1zM253 534h1v1h-1zM284 533h1v2h-1zM292 534h1v1h-1zM319 533h1v2h-1zM323 534h1v1h-1zM339 534h1v1h-1zM397 534h1v1h-1zM412 533h1v2h-1zM455 534h1v1h-1zM532 534h1v1h-1zM553 534h1v1h-1zM559 533h1v2h-1zM572 533h1v2h-1zM594 534h1v1h-1zM675 534h1v1h-1zM694 534h1v1h-1zM848 533h1v2h-1zM907 534h1v1h-1zM122 538h1v1h-1zM140 538h1v2h-1zM169 538h1v1h-1zM190 538h1v1h-1zM194 538h1v2h-1zM380 537h1v2h-1zM547 537h1v2h-1zM550 538h1v2h-1zM860 538h1v1h-1zM195 537h1v1h-1zM282 536h1v2h-1zM414 537h1v1h-1zM444 537h1v1h-1zM551 537h1v1h-1zM557 537h1v1h-1zM677 537h1v1h-1zM859 537h1v1h-1zM5 530h1v1h-1zM25 530h1v1h-1zM98 529h1v2h-1zM252 530h1v4h-1zM392 530h1v1h-1zM394 530h1v1h-1zM402 530h1v2h-1zM410 529h1v2h-1zM459 530h1v1h-1zM480 530h1v2h-1zM492 530h1v1h-1zM561 530h1v1h-1zM570 529h1v2h-1zM597 530h1v1h-1zM698 530h1v1h-1zM847 530h1v3h-1zM139 540h1v1h-1zM150 540h1v2h-1zM162 540h1v1h-1zM168 539h1v2h-1zM193 540h1v1h-1zM362 540h1v1h-1zM379 539h1v2h-1zM549 540h1v1h-1zM862 540h1v1h-1zM898 540h1v1h-1zM138 541h1v2h-1zM151 542h1v1h-1zM155 542h1v2h-1zM163 541h1v2h-1zM166 542h1v2h-1zM378 541h1v2h-1zM7 527h1v1h-1zM23 527h1v2h-1zM46 527h1v1h-1zM225 527h1v1h-1zM251 527h1v3h-1zM404 526h1v2h-1zM408 527h1v1h-1zM462 526h1v2h-1zM478 527h1v2h-1zM600 527h1v1h-1zM602 527h1v1h-1zM635 527h1v1h-1zM726 526h1v2h-1zM845 525h1v3h-1zM196 535h1v2h-1zM321 536h1v1h-1zM381 536h1v1h-1zM413 535h1v2h-1zM443 536h1v1h-1zM546 536h1v1h-1zM552 535h1v2h-1zM558 535h1v2h-1zM676 535h1v2h-1zM858 536h1v1h-1zM906 535h1v2h-1zM548 539h1v1h-1zM861 539h1v1h-1zM10 523h1v1h-1zM19 522h1v2h-1zM216 523h1v1h-1zM250 523h1v4h-1zM464 523h1v2h-1zM475 523h1v2h-1zM632 523h1v1h-1zM728 522h1v2h-1zM844 523h1v2h-1zM922 523h1v1h-1zM8 525h1v2h-1zM21 525h1v1h-1zM49 525h1v1h-1zM214 525h1v1h-1zM223 525h1v1h-1zM463 525h1v1h-1zM476 525h1v1h-1zM634 525h1v2h-1zM727 524h1v2h-1zM6 528h1v2h-1zM24 529h1v1h-1zM66 529h1v1h-1zM393 529h1v1h-1zM403 528h1v2h-1zM460 529h1v1h-1zM479 529h1v1h-1zM598 529h1v1h-1zM605 529h1v1h-1zM636 528h1v2h-1zM650 529h1v1h-1zM714 529h1v1h-1zM846 528h1v2h-1zM283 535h1v1h-1zM293 535h1v1h-1zM320 535h1v1h-1zM322 535h1v1h-1zM340 535h1v1h-1zM442 535h1v1h-1zM454 535h1v1h-1zM533 535h1v1h-1zM554 535h1v1h-1zM573 535h1v1h-1zM849 535h1v1h-1zM749 519h1v1h-1zM842 519h1v2h-1zM210 528h1v1h-1zM409 528h1v1h-1zM461 528h1v1h-1zM599 528h1v1h-1zM606 528h1v1h-1zM701 528h1v1h-1zM914 528h1v1h-1zM152 543h1v2h-1zM164 543h1v1h-1zM198 533h1v1h-1zM291 533h1v1h-1zM324 533h1v1h-1zM338 533h1v1h-1zM390 533h1v1h-1zM396 533h1v1h-1zM456 533h1v1h-1zM490 533h1v1h-1zM531 533h1v1h-1zM595 532h1v2h-1zM674 532h1v2h-1zM695 533h1v1h-1zM908 532h1v2h-1zM156 541h1v1h-1zM167 541h1v1h-1zM22 526h1v1h-1zM61 526h1v1h-1zM213 526h1v1h-1zM224 526h1v1h-1zM407 526h1v1h-1zM477 526h1v1h-1zM601 526h1v1h-1zM609 526h1v1h-1zM917 526h1v1h-1zM12 521h1v1h-1zM18 521h1v1h-1zM631 521h1v2h-1zM729 521h1v1h-1zM843 521h1v2h-1zM925 521h1v1h-1zM794 509h1v2h-1zM838 510h1v2h-1zM795 511h1v2h-1zM839 512h1v2h-1zM11 522h1v1h-1zM249 522h1v1h-1zM474 522h1v1h-1zM99 531h1v2h-1zM199 532h1v1h-1zM290 532h1v1h-1zM318 532h1v1h-1zM391 531h1v2h-1zM395 531h1v2h-1zM411 531h1v2h-1zM457 532h1v1h-1zM481 532h1v1h-1zM491 531h1v2h-1zM530 532h1v1h-1zM560 531h1v2h-1zM571 531h1v2h-1zM696 532h1v1h-1zM200 531h1v1h-1zM458 531h1v1h-1zM596 531h1v1h-1zM653 531h1v1h-1zM697 531h1v1h-1zM717 531h1v1h-1zM909 531h1v1h-1zM630 520h1v1h-1zM742 518h1v1h-1zM748 518h1v1h-1zM841 516h1v3h-1zM9 524h1v1h-1zM20 524h1v1h-1zM50 524h1v1h-1zM58 524h1v1h-1zM215 524h1v1h-1zM222 524h1v1h-1zM234 524h1v1h-1zM405 524h1v1h-1zM633 524h1v1h-1zM744 516h1v1h-1zM746 516h1v1h-1zM796 513h1v2h-1zM798 514h1v1h-1zM840 514h1v2h-1zM154 544h1v1h-1zM165 544h1v1h-1zM745 515h1v1h-1zM797 515h1v1h-1zM153 545h1v1h-1zM743 517h1v1h-1zM747 517h1v1h-1z" fill="#1e90ff"/>
<rect x="4" y="28" width="1164" height="1" fill="#000"/>
<rect x="4" y="28" width="1" height="392" fill="#000"/>
<rect x="4" y="419" width="1164" height="1" fill="#000"/>
<rect x="1167" y="28" width="1" height="392" fill="#000"/>
<rect x="4" y="421" width="1164" height="1" fill="#000"/>
<rect x="4" y="421" width="1" height="73" fill="#000"/>
<rect x="4" y="493" width="1164" height="1" fill="#000"/>
<rect x="1167" y="421" width="1" height="73" fill="#000"/>
<rect x="4" y="495" width="1164" height="1" fill="#000"/>
<rect x="4" y="495" width="1" height="75" fill="#000"/>
<rect x="4" y="569" width="1164" height="1" fill="#000"/>
<rect x="1167" y="495" width="1" height="75" fill="#000"/>
<rect x="1168" y="53" width="2" height="1" fill="#000"/>
<rect x="1168" y="86" width="2" height="1" fill="#000"/>
<rect x="1168" y="152" width="2" height="1" fill="#000"/>
<rect x="1168" y="185" width="2" height="1" fill="#000"/>
<rect x="1168" y="251" width="2" height="1" fill="#000"/>
<rect x="1168" y="284" width="2" height="1" fill="#000"/>
<rect x="1168" y="317" width="2" height="1" fill="#000"/>
<rect x="1168" y="350" width="2" height="1" fill="#000"/>
<rect x="1168" y="383" width="2" height="1" fill="#000"/>
<rect x="1168" y="416" width="2" height="1" fill="#000"/>
<rect x="1168" y="475" width="2" height="1" fill="#000"/>
<rect x="1168" y="421" width="1" height="1" fill="#000"/>
<rect x="1168" y="493" width="1" height="1" fill="#000"/>
<rect x="1168" y="569" width="1" height="1" fill="#000"/>
<rect x="5" y="570" width="1" height="3" fill="#000"/>
<rect x="69" y="570" width="1" height="3" fill="#000"/>
<rect x="133" y="570" width="1" height="3" fill="#000"/>
<rect x="197" y="570" width="1" height="3" fill="#000"/>
<rect x="261" y="570" width="1" height="3" fill="#000"/>
<rect x="325" y="570" width="1" height="3" fill="#000"/>
<rect x="389" y="570" width="1" height="3" fill="#000"/>
<rect x="453" y="570" width="1" height="3" fill="#000"/>
<rect x="517" y="570" width="1" height="3" fill="#000"/>
<rect x="581" y="570" width="1" height="3" fill="#000"/>
<rect x="645" y="570" width="1" height="3" fill="#000"/>
<rect x="709" y="570" width="1" height="3" fill="#000"/>
<rect x="773" y="570" width="1" height="3" fill="#000"/>
<rect x="837" y="570" width="1" height="3" fill="#000"/>
<rect x="901" y="570" width="1" height="3" fill="#000"/>
</svg>
<div class="a" style="left:9px;top:34px;width:0;height:0;border-left:3.5px solid transparent;border-right:3.5px solid transparent;border-bottom:4px solid #000"></div>
<div class="t" style="left:19.59px;top:31.04px;font-size:9.5px;line-height:12px;color:#000;letter-spacing:0.113px;">USDCHF-,Daily</div>
<div class="t" style="left:93.94px;top:31.04px;font-size:9.5px;line-height:12px;color:#000;letter-spacing:0.151px;transform:scaleX(0.94);">0.98018 0.98971 0.97651 0.98801</div>
<div class="a" style="left:6px;top:46px;width:223px;height:60px;background:#fff;"></div>
<svg width="223" height="60" viewBox="6 46 223 60" shape-rendering="crispEdges" style="position:absolute;left:6px;top:46px"><defs><linearGradient id="pg" gradientUnits="userSpaceOnUse" x1="0" y1="48" x2="0" y2="105"><stop offset="0" stop-color="#5454f6"/><stop offset="0.42" stop-color="#3636de"/><stop offset="0.44" stop-color="#2e2ed8"/><stop offset="1" stop-color="#0000ac"/></linearGradient><linearGradient id="pb" gradientUnits="userSpaceOnUse" x1="0" y1="48" x2="0" y2="105"><stop offset="0" stop-color="#2a2ad0"/><stop offset="0.42" stop-color="#0808b4"/><stop offset="1" stop-color="#00008c"/></linearGradient><linearGradient id="bt" x1="0" y1="0" x2="0" y2="1"><stop offset="0" stop-color="#f4f4f4"/><stop offset="0.33" stop-color="#e8e8e8"/><stop offset="0.34" stop-color="#dcdcdc"/><stop offset="1" stop-color="#d0d0d0"/></linearGradient></defs><polygon points="8,48 60,48 60,72 117,72 117,105 8,105" fill="url(#pb)"/><polygon points="9,49 59,49 59,73 116,73 116,104 9,104" fill="url(#pg)"/><polygon points="175,48 227,48 227,105 119,105 119,72 175,72" fill="url(#pb)"/><polygon points="176,49 226,49 226,104 120,104 120,73 176,73" fill="url(#pg)"/><rect x="12" y="71" width="44" height="1" fill="#1414a0"/><rect x="12" y="72" width="44" height="1" fill="#7878f0"/><rect x="179" y="71" width="44" height="1" fill="#1414a0"/><rect x="179" y="72" width="44" height="1" fill="#7878f0"/><rect x="62" y="48" width="111" height="22" fill="#a9acb4"/><rect x="63" y="49" width="109" height="20" fill="#fff"/><rect x="83" y="49" width="1" height="20" fill="#a9acb4"/><rect x="151" y="49" width="1" height="20" fill="#a9acb4"/><rect x="64" y="50" width="18" height="18" fill="url(#bt)"/><rect x="153" y="50" width="18" height="18" fill="url(#bt)"/><rect x="70" y="57" width="5" height="1" fill="#4a5cb4"/><rect x="71" y="58" width="3" height="1" fill="#4a5cb4"/><rect x="72" y="59" width="1" height="1" fill="#2c3a8c"/><rect x="161" y="57" width="1" height="1" fill="#4a5cb4"/><rect x="160" y="58" width="3" height="1" fill="#4a5cb4"/><rect x="159" y="59" width="5" height="1" fill="#4a5cb4"/></svg>
<div class="t" style="left:123.80px;top:51.80px;font-size:12px;line-height:14px;color:#000;letter-spacing:0.413px;">2.00</div>
<div class="t" style="left:19.92px;top:52.90px;font-size:12px;line-height:14px;color:#fff;transform:scaleX(0.8966244725738396);">SELL</div>
<div class="t" style="left:188.04px;top:52.90px;font-size:12px;line-height:14px;color:#fff;letter-spacing:-0.580px;">BUY</div>
<div class="t" style="left:27.32px;top:88.90px;font-size:12px;line-height:14px;color:#fff;letter-spacing:0.633px;font-weight:bold;">0.98</div>
<div class="t" style="left:55.22px;top:70.27px;font-size:33px;line-height:35px;color:#fff;letter-spacing:0.175px;">80</div>
<div class="t" style="left:95.02px;top:73.20px;font-size:12px;line-height:14px;color:#fff;font-weight:bold;">1</div>
<div class="t" style="left:137.92px;top:88.90px;font-size:12px;line-height:14px;color:#fff;letter-spacing:0.333px;font-weight:bold;">0.98</div>
<div class="t" style="left:165.91px;top:70.27px;font-size:33px;line-height:35px;color:#fff;letter-spacing:-0.295px;">82</div>
<div class="t" style="left:206.54px;top:73.20px;font-size:12px;line-height:14px;color:#fff;font-weight:bold;">5</div>
<div class="t" style="left:8.84px;top:424.44px;font-size:9.5px;line-height:12px;color:#000;letter-spacing:-0.085px;">MACD(12,26,9) 0.001561 -0.002215</div>
<div class="t" style="left:8.84px;top:498.44px;font-size:9.5px;line-height:12px;color:#000;letter-spacing:-0.118px;">RSI(14) 66.7727</div>
<div class="t" style="left:1173.12px;top:48.37px;font-size:9px;line-height:11px;color:#000;">1.00495</div>
<div class="t" style="left:1173.44px;top:81.37px;font-size:9px;line-height:11px;color:#000;letter-spacing:-0.053px;">0.99595</div>
<div class="t" style="left:1173.44px;top:147.37px;font-size:9px;line-height:11px;color:#000;letter-spacing:-0.053px;">0.97820</div>
<div class="t" style="left:1173.44px;top:180.37px;font-size:9px;line-height:11px;color:#000;letter-spacing:-0.053px;">0.96920</div>
<div class="t" style="left:1173.44px;top:246.37px;font-size:9px;line-height:11px;color:#000;letter-spacing:-0.053px;">0.95145</div>
<div class="t" style="left:1173.44px;top:279.37px;font-size:9px;line-height:11px;color:#000;letter-spacing:-0.053px;">0.94245</div>
<div class="t" style="left:1173.44px;top:312.37px;font-size:9px;line-height:11px;color:#000;letter-spacing:-0.053px;">0.93370</div>
<div class="t" style="left:1173.44px;top:345.37px;font-size:9px;line-height:11px;color:#000;letter-spacing:-0.053px;">0.92470</div>
<div class="t" style="left:1173.44px;top:378.37px;font-size:9px;line-height:11px;color:#000;letter-spacing:-0.053px;">0.91570</div>
<div class="t" style="left:1173.44px;top:411.37px;font-size:9px;line-height:11px;color:#000;letter-spacing:-0.053px;">0.90695</div>
<div class="t" style="left:1170.94px;top:423.67px;font-size:9px;line-height:11px;color:#000;letter-spacing:0.098px;">0.01555</div>
<div class="t" style="left:1170.94px;top:470.87px;font-size:9px;line-height:11px;color:#000;letter-spacing:0.105px;">0.00</div>
<div class="t" style="left:1170.89px;top:482.57px;font-size:9px;line-height:11px;color:#000;letter-spacing:0.152px;">-0.005075</div>
<div class="t" style="left:1170.62px;top:497.57px;font-size:9px;line-height:11px;color:#000;letter-spacing:0.475px;">100</div>
<div class="t" style="left:1170.15px;top:513.57px;font-size:9px;line-height:11px;color:#000;letter-spacing:0.220px;">70</div>
<div class="t" style="left:1170.24px;top:542.47px;font-size:9px;line-height:11px;color:#000;letter-spacing:0.130px;">30</div>
<div class="t" style="left:1170.94px;top:557.47px;font-size:9px;line-height:11px;color:#000;">0</div>
<div class="a" style="left:1169px;top:65px;width:40px;height:11px;background:#ff0000;"></div>
<div class="t" style="left:1173.12px;top:65.67px;font-size:9px;line-height:11px;color:#fff;letter-spacing:0.015px;">1.00017</div>
<div class="a" style="left:1169px;top:113px;width:40px;height:11px;background:#ff0000;"></div>
<div class="t" style="left:1173.44px;top:113.67px;font-size:9px;line-height:11px;color:#fff;letter-spacing:-0.045px;">0.98709</div>
<div class="a" style="left:1169px;top:164px;width:40px;height:11px;background:#00ff00;"></div>
<div class="t" style="left:1173.44px;top:164.67px;font-size:9px;line-height:11px;color:#fff;letter-spacing:-0.068px;">0.97334</div>
<div class="a" style="left:1169px;top:213px;width:40px;height:11px;background:#0000ff;"></div>
<div class="t" style="left:1173.44px;top:213.67px;font-size:9px;line-height:11px;color:#fff;letter-spacing:-0.045px;">0.96019</div>
<div class="a" style="left:1169px;top:258px;width:40px;height:11px;background:#0000ff;"></div>
<div class="t" style="left:1173.44px;top:258.67px;font-size:9px;line-height:11px;color:#fff;letter-spacing:-0.045px;">0.94783</div>
<div class="a" style="left:1169px;top:111px;width:40px;height:2px;background:#000;"></div>
<div class="t" style="left:4.03px;top:573.47px;font-size:9px;line-height:11px;color:#000;letter-spacing:0.100px;">15 Sep 2021</div>
<div class="t" style="left:67.78px;top:573.47px;font-size:9px;line-height:11px;color:#000;letter-spacing:0.100px;">4 Oct 2021</div>
<div class="t" style="left:131.55px;top:573.47px;font-size:9px;line-height:11px;color:#000;letter-spacing:0.100px;">22 Oct 2021</div>
<div class="t" style="left:195.32px;top:573.47px;font-size:9px;line-height:11px;color:#000;letter-spacing:0.100px;">10 Nov 2021</div>
<div class="t" style="left:259.55px;top:573.47px;font-size:9px;line-height:11px;color:#000;letter-spacing:0.100px;">29 Nov 2021</div>
<div class="t" style="left:323.82px;top:573.47px;font-size:9px;line-height:11px;color:#000;letter-spacing:0.100px;">17 Dec 2021</div>
<div class="t" style="left:388.24px;top:573.47px;font-size:9px;line-height:11px;color:#000;letter-spacing:0.100px;">5 Jan 2022</div>
<div class="t" style="left:451.55px;top:573.47px;font-size:9px;line-height:11px;color:#000;letter-spacing:0.100px;">24 Jan 2022</div>
<div class="t" style="left:515.33px;top:573.47px;font-size:9px;line-height:11px;color:#000;letter-spacing:0.100px;">11 Feb 2022</div>
<div class="t" style="left:579.55px;top:573.47px;font-size:9px;line-height:11px;color:#000;letter-spacing:0.100px;">2 Mar 2022</div>
<div class="t" style="left:643.85px;top:573.47px;font-size:9px;line-height:11px;color:#000;letter-spacing:0.100px;">21 Mar 2022</div>
<div class="t" style="left:707.20px;top:573.47px;font-size:9px;line-height:11px;color:#000;letter-spacing:0.100px;">8 Apr 2022</div>
<div class="t" style="left:772.35px;top:573.47px;font-size:9px;line-height:11px;color:#000;letter-spacing:0.100px;">27 Apr 2022</div>
<div class="t" style="left:836.12px;top:573.47px;font-size:9px;line-height:11px;color:#000;letter-spacing:0.100px;">16 May 2022</div>
<div class="t" style="left:900.44px;top:573.47px;font-size:9px;line-height:11px;color:#000;letter-spacing:0.100px;">3 Jun 2022</div>
<div class="a" style="left:0px;top:590px;width:1209px;height:1px;background:#e6e6e6;"></div>
<div class="a" style="left:0px;top:592px;width:1209px;height:1px;background:#000;"></div>
<div class="a" style="left:0px;top:593px;width:1209px;height:19px;background:#f0f0f0;"></div>
<div class="a" style="left:0px;top:593px;width:2px;height:18px;background:#8c8c8c;"></div>
<div class="a" style="left:0px;top:612px;width:1209px;height:1px;background:#fff;"></div>
<div class="a" style="left:0px;top:613px;width:1209px;height:1px;background:#f9f9f9;"></div>
<div class="a" style="left:0px;top:614px;width:1209px;height:2px;background:#f3f3f3;"></div>
<div class="a" style="left:0px;top:616px;width:1209px;height:1px;background:#a4a4a4;"></div>
<div class="a" style="left:321px;top:593px;width:1px;height:18px;background:#fff;"></div>
<div class="a" style="left:322px;top:592px;width:108px;height:19px;background:#fff;border-left:1px solid #000;border-right:1px solid #000;border-bottom:1px solid #000;box-sizing:border-box"></div>
<div class="t" style="left:17.00px;top:595.60px;font-size:12px;line-height:14px;color:#727272;letter-spacing:0.258px;">USDX,Weekly</div>
<div class="t" style="left:116.64px;top:595.60px;font-size:12px;line-height:14px;color:#727272;letter-spacing:0.063px;">EURUSD-,Daily</div>
<div class="t" style="left:224.54px;top:595.60px;font-size:12px;line-height:14px;color:#727272;letter-spacing:0.172px;">AUDUSD-,Daily</div>
<div class="t" style="left:333.60px;top:595.60px;font-size:12px;line-height:14px;color:#000;letter-spacing:0.097px;">USDCHF-,Daily</div>
<div class="t" style="left:440.80px;top:595.60px;font-size:12px;line-height:14px;color:#727272;letter-spacing:0.183px;">USDCAD-,Daily</div>
<div class="t" style="left:549.90px;top:595.60px;font-size:12px;line-height:14px;color:#727272;letter-spacing:0.253px;">USDCNH-,Daily</div>
<div class="t" style="left:661.30px;top:595.60px;font-size:12px;line-height:14px;color:#727272;letter-spacing:0.193px;">XAUUSD-,H1</div>
<div class="t" style="left:756.70px;top:595.60px;font-size:12px;line-height:14px;color:#727272;letter-spacing:0.402px;">UKOil-,Daily</div>
<div class="t" style="left:850.00px;top:595.60px;font-size:12px;line-height:14px;color:#727272;letter-spacing:0.311px;">USOil-,Daily</div>
<div class="t" style="left:939.54px;top:595.60px;font-size:12px;line-height:14px;color:#727272;letter-spacing:0.469px;">HK50-,H1</div>
<div class="t" style="left:1015.74px;top:595.60px;font-size:12px;line-height:14px;color:#727272;letter-spacing:-0.067px;">EURCHF-,H1</div>
<div class="t" style="left:1110.10px;top:595.60px;font-size:12px;line-height:14px;color:#727272;letter-spacing:0.295px;">USOil-,H4</div>
<div class="a" style="left:106px;top:595px;width:1px;height:14px;background:#5a5a5a;"></div>
<div class="a" style="left:214px;top:595px;width:1px;height:14px;background:#5a5a5a;"></div>
<div class="a" style="left:539px;top:595px;width:1px;height:14px;background:#5a5a5a;"></div>
<div class="a" style="left:650px;top:595px;width:1px;height:14px;background:#5a5a5a;"></div>
<div class="a" style="left:746px;top:595px;width:1px;height:14px;background:#5a5a5a;"></div>
<div class="a" style="left:838px;top:595px;width:1px;height:14px;background:#5a5a5a;"></div>
<div class="a" style="left:930px;top:595px;width:1px;height:14px;background:#5a5a5a;"></div>
<div class="a" style="left:1006px;top:595px;width:1px;height:14px;background:#5a5a5a;"></div>
<div class="a" style="left:1098px;top:595px;width:1px;height:14px;background:#5a5a5a;"></div>
<svg width="30" height="9" viewBox="1180 597 30 9" shape-rendering="crispEdges" style="position:absolute;left:1180px;top:597px"><rect x="1186" y="598" width="1" height="7" fill="#a0a0a0"/><rect x="1202" y="598" width="1" height="7" fill="#000"/><rect x="1185" y="599" width="1" height="5" fill="#a0a0a0"/><rect x="1203" y="599" width="1" height="5" fill="#000"/><rect x="1184" y="600" width="1" height="3" fill="#a0a0a0"/><rect x="1204" y="600" width="1" height="3" fill="#000"/><rect x="1183" y="601" width="1" height="1" fill="#a0a0a0"/><rect x="1205" y="601" width="1" height="1" fill="#000"/></svg>
</body></html>
